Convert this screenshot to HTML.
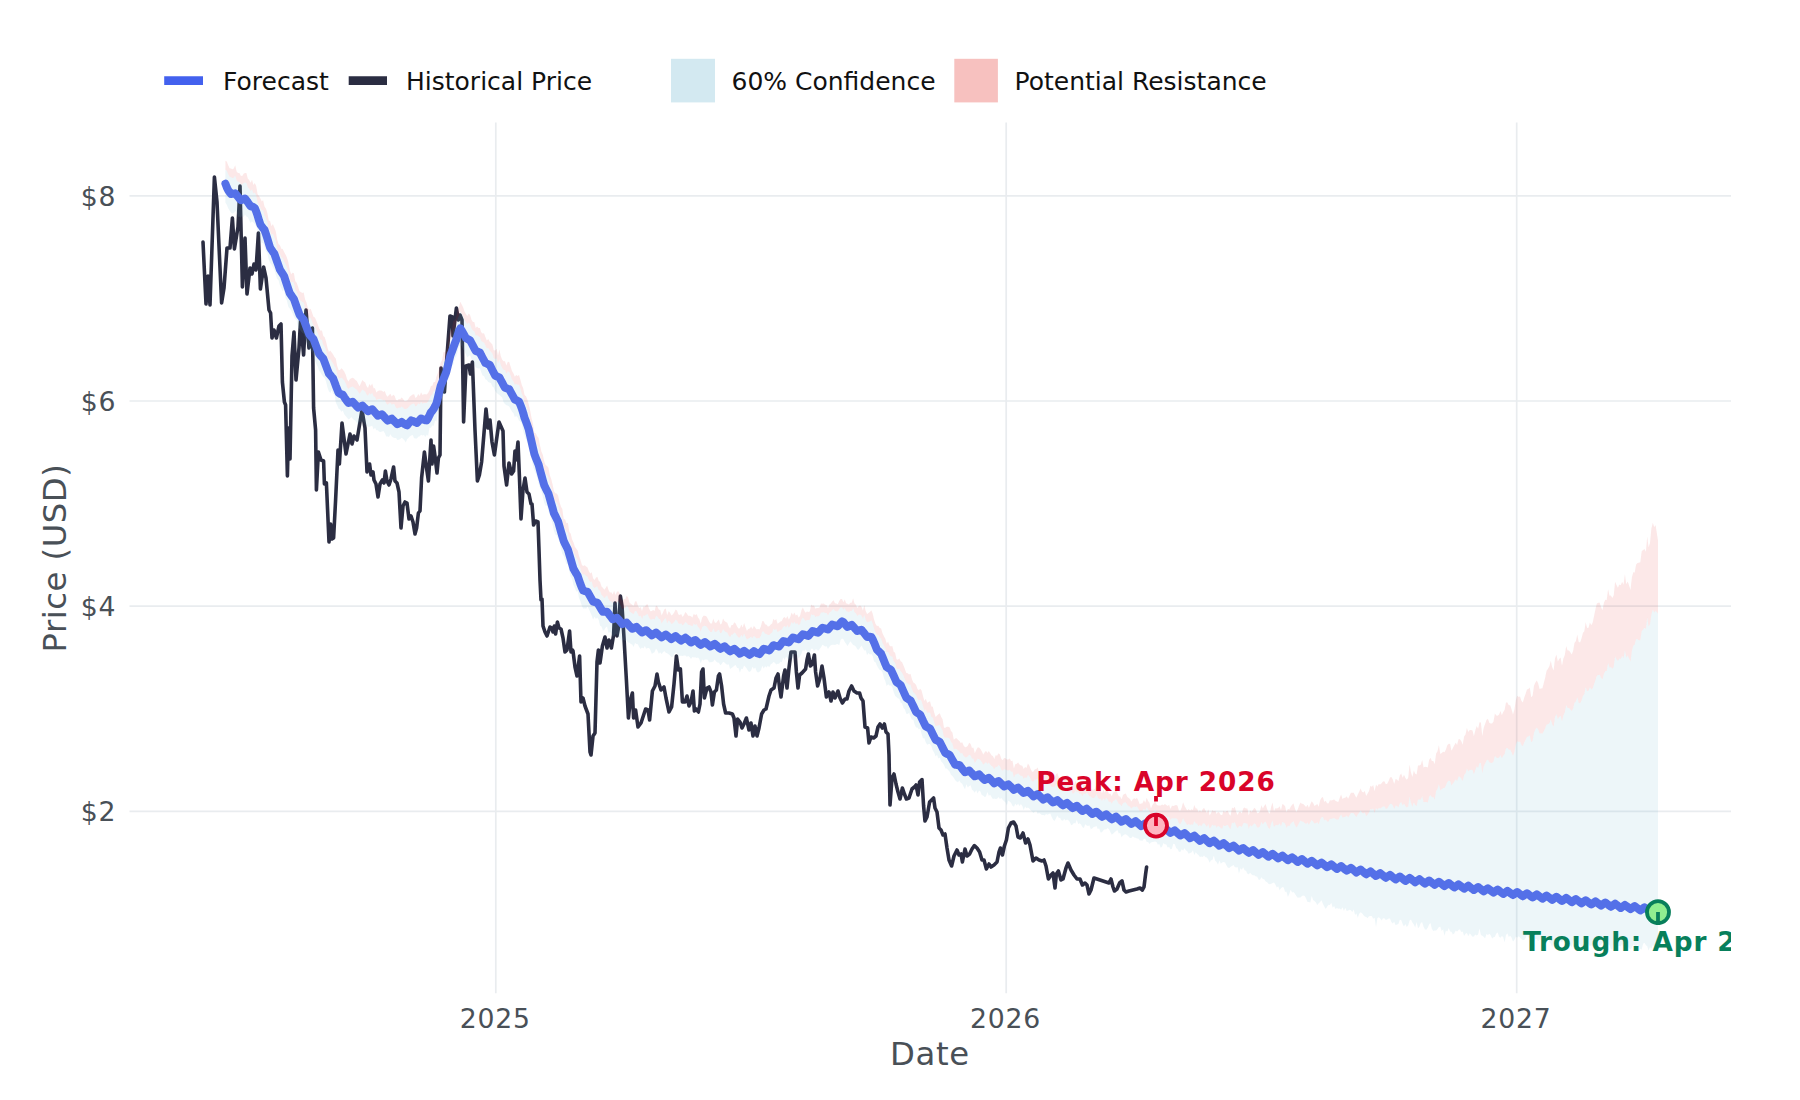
<!DOCTYPE html>
<html lang="en"><head><meta charset="utf-8"><title>Price Forecast</title>
<style>html,body{margin:0;padding:0;background:#fff}svg{display:block}</style></head>
<body>
<svg width="1800" height="1100" viewBox="0 0 1800 1100">
<rect width="1800" height="1100" fill="#fff"/>
<defs><clipPath id="panel"><rect x="129.5" y="122.5" width="1601.5" height="870.8"/></clipPath></defs>
<g stroke="#E9ECEF" stroke-width="1.7" fill="none">
<path d="M129.5,195.8 H1731.0"/>
<path d="M129.5,401.0 H1731.0"/>
<path d="M129.5,606.2 H1731.0"/>
<path d="M129.5,811.4 H1731.0"/>
<path d="M495.8,122.5 V993.3"/>
<path d="M1006.2,122.5 V993.3"/>
<path d="M1516.7,122.5 V993.3"/>
</g>
<g clip-path="url(#panel)">
<path d="M203.0,242.0 L206.0,304.0 L208.0,276.0 L210.0,305.0 L214.4,177.0 L217.0,202.0 L221.6,303.0 L224.0,288.0 L227.0,248.0 L230.0,248.0 L232.4,218.0 L234.4,249.0 L238.0,227.0 L240.0,186.0 L242.4,287.0 L245.0,238.0 L247.0,294.0 L250.0,268.0 L252.0,274.0 L254.0,264.0 L256.0,270.0 L258.4,233.0 L260.4,289.0 L263.6,267.0 L266.0,278.0 L269.0,310.0 L270.6,313.0 L272.0,338.0 L274.0,330.0 L276.4,338.0 L279.0,326.0 L281.0,324.0 L282.4,382.0 L284.4,402.0 L285.6,405.0 L287.4,476.0 L288.6,428.0 L290.0,459.0 L292.0,356.0 L294.0,332.0 L296.0,380.0 L299.0,348.0 L300.6,320.0 L303.6,355.0 L306.0,310.0 L309.0,348.0 L312.4,328.0 L313.6,408.0 L315.6,430.0 L316.4,490.0 L318.4,452.0 L321.0,460.0 L323.6,461.0 L324.4,484.0 L326.4,483.0 L329.0,542.0 L330.6,524.0 L332.0,539.0 L333.6,538.0 L335.6,500.0 L338.0,450.0 L339.4,464.0 L342.0,423.0 L346.0,454.0 L350.0,434.0 L352.0,444.0 L354.0,436.0 L357.0,440.0 L362.0,410.0 L365.0,428.0 L367.0,472.0 L369.6,464.0 L371.0,475.0 L373.0,472.0 L374.0,480.0 L376.0,484.0 L378.0,497.0 L380.0,484.0 L382.4,480.0 L384.0,483.0 L385.4,471.0 L387.0,481.0 L389.0,485.0 L391.0,479.0 L393.6,467.0 L395.0,481.0 L397.0,483.0 L399.0,492.0 L401.0,528.0 L403.0,506.0 L405.0,502.0 L407.0,503.0 L409.0,519.0 L411.0,516.0 L413.0,522.0 L415.0,534.0 L416.6,528.0 L418.4,513.0 L420.0,511.0 L421.6,478.0 L424.4,452.0 L426.4,467.0 L428.4,481.0 L431.0,440.0 L432.0,464.0 L433.6,446.0 L435.0,456.0 L437.0,473.0 L438.4,458.0 L440.0,455.0 L441.0,368.0 L443.0,386.0 L444.4,392.0 L447.0,356.0 L450.0,316.0 L452.4,317.0 L453.0,336.0 L456.4,308.0 L458.4,320.0 L460.0,315.0 L462.0,320.0 L463.6,422.0 L466.0,366.0 L469.0,365.0 L470.4,374.0 L472.4,362.0 L475.0,430.0 L477.4,481.0 L479.4,475.0 L481.6,462.0 L486.0,409.0 L488.0,428.0 L490.0,420.0 L492.0,442.0 L494.4,455.0 L499.0,422.0 L503.0,431.0 L504.0,466.0 L506.6,485.0 L509.0,463.0 L511.6,474.0 L513.6,471.0 L515.0,451.0 L516.0,460.0 L518.0,442.0 L519.4,476.0 L521.0,519.0 L523.0,490.0 L525.0,478.0 L527.0,492.0 L529.0,494.0 L531.0,504.0 L532.0,504.0 L533.6,525.0 L535.6,521.0 L538.0,522.0 L539.0,550.0 L540.0,580.0 L541.0,600.0 L542.0,599.0 L543.0,626.0 L545.0,632.0 L547.0,636.0 L550.0,627.0 L552.0,628.0 L553.0,632.0 L554.4,626.0 L555.6,634.0 L557.4,622.0 L559.0,628.0 L561.0,629.0 L563.0,638.0 L565.0,652.0 L567.0,650.0 L569.6,631.0 L571.0,652.0 L572.4,650.0 L573.0,651.0 L575.0,667.0 L577.0,676.0 L579.6,656.0 L581.0,702.0 L583.0,698.0 L585.0,706.0 L588.0,714.0 L590.0,752.0 L591.0,755.0 L593.0,736.0 L595.0,733.0 L597.0,662.0 L598.4,650.0 L600.0,663.0 L602.4,646.0 L605.0,637.0 L607.0,648.0 L609.0,640.0 L611.4,648.0 L613.6,635.0 L615.0,603.0 L617.0,636.0 L618.6,627.0 L620.4,596.0 L622.0,606.0 L624.0,638.0 L626.4,680.0 L628.4,718.0 L630.4,700.0 L632.4,693.0 L633.6,718.0 L635.6,710.0 L638.0,727.0 L641.0,723.0 L645.6,709.0 L648.0,710.0 L649.6,720.0 L652.4,691.0 L655.0,686.0 L657.0,674.0 L658.4,682.0 L661.0,690.0 L664.0,687.0 L666.0,698.0 L669.0,712.0 L671.6,707.0 L674.0,684.0 L676.4,656.0 L678.4,670.0 L680.4,669.0 L682.4,702.0 L685.0,702.0 L687.0,696.0 L689.0,706.0 L691.0,702.0 L693.0,691.0 L694.4,711.0 L696.0,709.0 L698.4,712.0 L700.0,704.0 L701.6,672.0 L703.0,669.0 L704.4,698.0 L707.0,688.0 L709.0,687.0 L711.0,692.0 L712.4,705.0 L714.4,692.0 L716.4,690.0 L718.4,676.0 L719.6,674.0 L721.6,686.0 L723.6,704.0 L725.6,713.0 L729.0,713.0 L732.4,714.0 L734.0,718.0 L736.0,736.0 L737.6,719.0 L740.0,722.0 L742.0,728.0 L744.0,724.0 L746.4,718.0 L749.0,730.0 L751.0,723.0 L753.0,736.0 L755.0,726.0 L757.0,736.0 L759.0,728.0 L761.6,714.0 L764.0,710.0 L766.0,709.0 L769.0,696.0 L771.0,690.0 L774.0,688.0 L776.0,678.0 L778.0,674.0 L779.6,688.0 L781.0,697.0 L783.6,676.0 L785.0,670.0 L787.0,688.0 L789.0,668.0 L791.0,652.0 L795.0,652.0 L796.4,672.0 L798.0,688.0 L799.6,675.0 L802.0,673.0 L805.6,669.0 L807.0,660.0 L808.4,654.0 L810.4,666.0 L812.4,664.0 L814.4,655.0 L815.6,672.0 L817.6,686.0 L820.0,678.0 L822.0,666.0 L824.0,678.0 L826.4,697.0 L829.0,692.0 L831.0,701.0 L833.0,692.0 L835.0,698.0 L838.0,691.0 L840.0,698.0 L842.4,703.0 L845.0,699.0 L847.0,699.0 L849.0,691.0 L851.6,686.0 L854.0,691.0 L857.0,693.0 L859.6,693.0 L861.0,698.0 L863.0,701.0 L865.0,727.0 L867.6,728.0 L869.0,743.0 L871.0,737.0 L873.6,738.0 L876.0,736.0 L878.0,727.0 L880.0,724.0 L882.4,728.0 L884.4,724.0 L886.0,732.0 L888.0,734.0 L889.0,755.0 L890.0,805.0 L892.0,778.0 L894.0,774.0 L896.0,784.0 L898.0,792.0 L900.0,799.0 L902.4,788.0 L904.4,794.0 L906.4,799.0 L909.0,798.0 L912.0,789.0 L914.4,787.0 L916.0,785.0 L918.0,795.0 L919.6,782.0 L922.0,779.6 L923.6,806.0 L925.0,821.0 L927.0,817.0 L929.6,802.0 L931.6,800.0 L933.6,798.0 L935.0,808.0 L937.0,812.0 L939.0,828.0 L941.0,830.0 L943.0,835.0 L945.0,834.0 L947.0,848.0 L949.0,860.0 L951.6,866.0 L954.0,856.0 L957.0,850.0 L959.0,855.0 L961.0,854.0 L962.4,862.0 L965.0,849.0 L967.0,856.0 L969.6,854.0 L972.0,849.0 L974.4,845.6 L977.0,848.0 L979.6,852.0 L982.0,860.0 L984.0,860.0 L986.4,869.0 L989.0,864.0 L991.0,867.0 L994.0,865.0 L997.0,862.0 L999.0,852.0 L1000.4,848.0 L1002.4,855.0 L1004.4,846.0 L1006.4,840.0 L1008.4,828.0 L1011.0,823.0 L1013.6,822.0 L1016.0,826.0 L1018.0,837.0 L1020.4,838.0 L1023.0,833.0 L1025.6,843.0 L1028.0,839.0 L1030.0,845.0 L1033.0,861.0 L1036.0,858.0 L1039.0,860.0 L1042.0,861.0 L1044.0,860.0 L1046.0,866.0 L1048.4,879.0 L1051.0,875.0 L1053.0,873.0 L1055.0,888.0 L1056.4,874.0 L1058.4,871.0 L1061.0,880.0 L1063.0,879.0 L1066.0,868.0 L1068.0,863.0 L1071.0,870.0 L1074.0,875.0 L1077.0,879.0 L1080.0,879.0 L1082.4,885.0 L1085.0,883.0 L1087.0,885.0 L1089.0,894.0 L1091.0,890.0 L1094.0,878.0 L1097.0,879.0 L1100.0,880.0 L1103.0,881.0 L1106.0,882.0 L1109.0,883.0 L1111.0,879.0 L1113.0,887.0 L1114.4,891.0 L1117.0,889.0 L1119.6,883.0 L1122.0,881.0 L1124.0,890.0 L1126.0,892.0 L1129.0,891.0 L1133.0,890.0 L1137.0,889.0 L1140.0,888.0 L1142.4,890.0 L1144.0,887.0 L1145.6,874.0 L1146.6,867.0" fill="none" stroke="#2B2D42" stroke-width="3.6" stroke-linejoin="round" stroke-linecap="round"/>
<path d="M225.4,169.7 L226.8,170.8 L228.2,174.3 L229.6,176.8 L231.0,177.3 L232.4,178.0 L233.8,177.7 L235.2,175.4 L236.6,180.5 L238.0,181.7 L239.4,182.0 L240.8,184.2 L242.2,184.5 L243.6,183.1 L245.0,182.6 L246.4,182.9 L247.8,187.2 L249.2,188.7 L250.6,191.0 L252.0,189.2 L253.4,193.4 L254.8,192.6 L256.2,195.4 L257.6,202.4 L259.0,204.7 L260.4,207.4 L261.8,210.5 L263.1,210.0 L264.5,215.6 L265.9,218.0 L267.3,222.0 L268.7,228.9 L270.1,230.2 L271.5,234.8 L272.9,233.8 L274.3,237.3 L275.7,240.6 L277.1,247.7 L278.5,252.0 L279.9,253.7 L281.3,257.1 L282.7,258.1 L284.1,261.2 L285.5,263.9 L286.9,267.1 L288.3,271.2 L289.7,278.0 L291.1,282.2 L292.5,281.8 L293.9,282.8 L295.3,289.6 L296.7,291.6 L298.1,295.4 L299.5,299.4 L300.9,300.7 L302.3,302.1 L303.7,302.4 L305.1,308.3 L306.5,311.3 L307.9,316.4 L309.3,318.3 L310.7,318.1 L312.1,321.8 L313.5,325.5 L314.9,326.7 L316.3,329.8 L317.7,333.2 L319.1,337.0 L320.5,339.5 L321.9,340.0 L323.3,344.8 L324.7,346.4 L326.1,350.5 L327.5,355.8 L328.9,359.5 L330.3,359.1 L331.7,361.4 L333.1,363.5 L334.5,366.1 L335.8,367.9 L337.2,374.2 L338.6,378.0 L340.0,378.4 L341.4,377.4 L342.8,378.7 L344.2,380.6 L345.6,383.1 L347.0,386.9 L348.4,388.9 L349.8,387.6 L351.2,387.0 L352.6,386.6 L354.0,387.4 L355.4,388.8 L356.8,389.6 L358.2,391.8 L359.6,393.8 L361.0,391.5 L362.4,389.4 L363.8,390.6 L365.2,391.6 L366.6,394.4 L368.0,395.8 L369.4,393.0 L370.8,394.6 L372.2,392.7 L373.6,396.6 L375.0,396.7 L376.4,400.1 L377.8,399.2 L379.2,398.9 L380.6,399.1 L382.0,399.5 L383.4,400.6 L384.8,400.1 L386.2,403.3 L387.6,404.7 L389.0,403.6 L390.4,402.7 L391.8,404.8 L393.2,403.7 L394.6,404.6 L396.0,407.7 L397.4,408.4 L398.8,407.4 L400.2,407.7 L401.6,406.5 L403.0,407.5 L404.4,409.1 L405.8,409.1 L407.2,408.6 L408.5,407.2 L409.9,405.4 L411.3,404.6 L412.7,403.7 L414.1,403.5 L415.5,406.4 L416.9,405.4 L418.3,403.2 L419.7,404.4 L421.1,401.7 L422.5,403.7 L423.9,403.1 L425.3,402.9 L426.7,403.0 L428.1,401.5 L429.5,399.1 L430.9,395.4 L432.3,394.6 L433.7,391.1 L435.1,390.3 L436.5,385.3 L437.9,381.5 L439.3,376.6 L440.7,371.3 L442.1,368.5 L443.5,361.2 L444.9,360.4 L446.3,357.4 L447.7,351.5 L449.1,343.6 L450.5,339.6 L451.9,337.7 L453.3,330.1 L454.7,328.5 L456.1,325.7 L457.5,318.8 L458.9,316.1 L460.3,311.3 L461.7,313.8 L463.1,316.1 L464.5,319.8 L465.9,322.2 L467.3,324.1 L468.7,322.6 L470.1,324.3 L471.5,328.2 L472.9,330.4 L474.3,330.9 L475.7,335.8 L477.1,335.0 L478.5,336.6 L479.9,337.0 L481.2,340.7 L482.6,342.1 L484.0,342.4 L485.4,345.6 L486.8,348.6 L488.2,348.0 L489.6,350.3 L491.0,351.9 L492.4,353.5 L493.8,358.3 L495.2,358.9 L496.6,358.1 L498.0,363.5 L499.4,359.4 L500.8,365.1 L502.2,368.0 L503.6,369.7 L505.0,370.1 L506.4,373.7 L507.8,371.3 L509.2,371.9 L510.6,375.6 L512.0,379.5 L513.4,381.5 L514.8,384.7 L516.2,383.8 L517.6,384.9 L519.0,384.6 L520.4,388.8 L521.8,393.5 L523.2,396.8 L524.6,402.9 L526.0,405.1 L527.4,408.9 L528.8,413.9 L530.2,419.8 L531.6,426.9 L533.0,432.5 L534.4,440.4 L535.8,441.9 L537.2,445.3 L538.6,447.7 L540.0,454.2 L541.4,460.2 L542.8,463.6 L544.2,469.5 L545.6,473.2 L547.0,475.0 L548.4,477.2 L549.8,483.8 L551.2,487.7 L552.6,493.0 L553.9,498.8 L555.3,501.5 L556.7,502.6 L558.1,505.2 L559.5,511.0 L560.9,515.4 L562.3,518.3 L563.7,526.9 L565.1,528.2 L566.5,531.9 L567.9,532.5 L569.3,540.3 L570.7,542.9 L572.1,548.2 L573.5,551.5 L574.9,555.5 L576.3,557.8 L577.7,560.1 L579.1,565.1 L580.5,568.7 L581.9,573.3 L583.3,574.5 L584.7,574.3 L586.1,575.7 L587.5,576.8 L588.9,580.0 L590.3,582.0 L591.7,581.5 L593.1,586.5 L594.5,588.1 L595.9,586.8 L597.3,586.4 L598.7,589.7 L600.1,591.1 L601.5,594.8 L602.9,596.2 L604.3,597.9 L605.7,596.8 L607.1,595.3 L608.5,598.9 L609.9,601.2 L611.3,601.2 L612.7,603.1 L614.1,600.5 L615.5,603.7 L616.9,601.5 L618.3,601.2 L619.7,603.2 L621.1,606.6 L622.5,609.4 L623.9,607.9 L625.3,608.1 L626.6,605.8 L628.0,607.1 L629.4,611.3 L630.8,612.3 L632.2,613.2 L633.6,614.2 L635.0,610.9 L636.4,610.9 L637.8,614.0 L639.2,616.4 L640.6,615.6 L642.0,618.9 L643.4,615.5 L644.8,615.8 L646.2,614.5 L647.6,614.1 L649.0,617.5 L650.4,619.6 L651.8,619.6 L653.2,618.8 L654.6,619.6 L656.0,615.7 L657.4,616.6 L658.8,618.7 L660.2,619.3 L661.6,623.4 L663.0,621.3 L664.4,619.0 L665.8,618.3 L667.2,623.5 L668.6,620.6 L670.0,621.5 L671.4,623.9 L672.8,623.3 L674.2,621.9 L675.6,619.6 L677.0,620.4 L678.4,623.6 L679.8,623.9 L681.2,623.2 L682.6,625.5 L684.0,624.1 L685.4,621.9 L686.8,623.1 L688.2,624.8 L689.6,624.9 L691.0,625.4 L692.4,626.5 L693.8,623.6 L695.2,625.0 L696.6,624.1 L698.0,626.9 L699.3,628.1 L700.7,631.5 L702.1,627.3 L703.5,625.9 L704.9,625.8 L706.3,626.3 L707.7,628.1 L709.1,630.4 L710.5,631.9 L711.9,632.0 L713.3,628.3 L714.7,631.4 L716.1,631.9 L717.5,630.6 L718.9,629.4 L720.3,633.2 L721.7,632.6 L723.1,629.0 L724.5,630.9 L725.9,631.9 L727.3,632.4 L728.7,635.4 L730.1,637.1 L731.5,634.5 L732.9,634.5 L734.3,632.6 L735.7,633.6 L737.1,635.8 L738.5,637.5 L739.9,637.5 L741.3,634.7 L742.7,637.0 L744.1,633.5 L745.5,636.6 L746.9,639.6 L748.3,638.4 L749.7,637.9 L751.1,636.4 L752.5,638.3 L753.9,635.7 L755.3,637.3 L756.7,638.6 L758.1,638.1 L759.5,638.3 L760.9,635.8 L762.3,631.5 L763.7,631.6 L765.1,633.7 L766.5,634.0 L767.9,635.1 L769.3,634.9 L770.7,633.5 L772.1,632.5 L773.4,628.8 L774.8,629.9 L776.2,628.7 L777.6,632.0 L779.0,631.3 L780.4,630.0 L781.8,629.4 L783.2,627.1 L784.6,626.1 L786.0,627.4 L787.4,625.1 L788.8,627.7 L790.2,625.7 L791.6,622.0 L793.0,623.8 L794.4,621.8 L795.8,623.9 L797.2,623.1 L798.6,625.2 L800.0,623.9 L801.4,619.7 L802.8,617.3 L804.2,619.3 L805.6,620.9 L807.0,619.9 L808.4,620.1 L809.8,619.7 L811.2,614.3 L812.6,615.1 L814.0,614.7 L815.4,617.1 L816.8,616.3 L818.2,616.3 L819.6,615.5 L821.0,612.6 L822.4,612.6 L823.8,612.3 L825.2,613.1 L826.6,613.1 L828.0,615.5 L829.4,612.7 L830.8,611.8 L832.2,610.1 L833.6,609.0 L835.0,611.1 L836.4,611.3 L837.8,611.6 L839.2,609.1 L840.6,607.4 L842.0,607.2 L843.4,609.8 L844.8,607.9 L846.1,611.0 L847.5,611.5 L848.9,612.2 L850.3,611.1 L851.7,611.1 L853.1,608.1 L854.5,612.2 L855.9,613.3 L857.3,615.9 L858.7,614.7 L860.1,614.4 L861.5,615.6 L862.9,618.8 L864.3,615.0 L865.7,619.8 L867.1,622.3 L868.5,621.8 L869.9,621.4 L871.3,620.3 L872.7,623.4 L874.1,628.4 L875.5,632.3 L876.9,634.7 L878.3,635.1 L879.7,637.4 L881.1,638.4 L882.5,642.7 L883.9,645.7 L885.3,648.2 L886.7,652.3 L888.1,651.7 L889.5,654.9 L890.9,656.2 L892.3,656.4 L893.7,661.3 L895.1,662.7 L896.5,668.3 L897.9,669.1 L899.3,668.8 L900.7,671.3 L902.1,672.8 L903.5,675.7 L904.9,678.9 L906.3,682.6 L907.7,683.3 L909.1,684.7 L910.5,684.6 L911.9,689.1 L913.3,692.3 L914.7,693.4 L916.1,695.3 L917.5,698.7 L918.8,700.2 L920.2,699.6 L921.6,701.3 L923.0,706.1 L924.4,710.4 L925.8,709.3 L927.2,712.7 L928.6,712.4 L930.0,712.5 L931.4,716.9 L932.8,717.6 L934.2,722.3 L935.6,726.3 L937.0,725.7 L938.4,725.2 L939.8,724.9 L941.2,728.3 L942.6,730.5 L944.0,737.3 L945.4,737.8 L946.8,737.5 L948.2,737.8 L949.6,738.6 L951.0,742.0 L952.4,743.4 L953.8,749.3 L955.2,748.8 L956.6,749.0 L958.0,750.3 L959.4,751.6 L960.8,753.4 L962.2,753.1 L963.6,755.8 L965.0,757.3 L966.4,757.3 L967.8,756.4 L969.2,754.4 L970.6,755.5 L972.0,758.6 L973.4,758.5 L974.8,762.9 L976.2,760.7 L977.6,758.8 L979.0,759.0 L980.4,760.2 L981.8,762.0 L983.2,764.7 L984.6,763.3 L986.0,762.1 L987.4,764.0 L988.8,762.6 L990.2,764.4 L991.5,766.1 L992.9,766.7 L994.3,769.2 L995.7,766.5 L997.1,766.9 L998.5,765.1 L999.9,766.1 L1001.3,769.5 L1002.7,770.8 L1004.1,769.2 L1005.5,769.4 L1006.9,770.3 L1008.3,770.5 L1009.7,769.8 L1011.1,771.7 L1012.5,771.6 L1013.9,777.6 L1015.3,774.5 L1016.7,774.2 L1018.1,773.2 L1019.5,774.9 L1020.9,775.8 L1022.3,776.1 L1023.7,778.7 L1025.1,777.2 L1026.5,777.9 L1027.9,774.7 L1029.3,776.3 L1030.7,779.1 L1032.1,781.2 L1033.5,781.2 L1034.9,779.4 L1036.3,779.4 L1037.7,778.2 L1039.1,782.4 L1040.5,782.6 L1041.9,784.3 L1043.3,784.6 L1044.7,782.8 L1046.1,784.0 L1047.5,783.8 L1048.9,783.9 L1050.3,784.5 L1051.7,787.1 L1053.1,786.7 L1054.5,787.2 L1055.9,784.7 L1057.3,783.6 L1058.7,786.6 L1060.1,787.7 L1061.5,790.8 L1062.9,789.5 L1064.2,789.0 L1065.6,786.8 L1067.0,785.1 L1068.4,786.5 L1069.8,790.4 L1071.2,789.8 L1072.6,793.7 L1074.0,793.3 L1075.4,790.5 L1076.8,791.9 L1078.2,791.5 L1079.6,793.9 L1081.0,793.6 L1082.4,796.3 L1083.8,793.2 L1085.2,794.3 L1086.6,792.2 L1088.0,793.9 L1089.4,796.1 L1090.8,796.8 L1092.2,797.8 L1093.6,798.0 L1095.0,797.3 L1096.4,793.9 L1097.8,797.5 L1099.2,798.9 L1100.6,798.5 L1102.0,801.1 L1103.4,798.2 L1104.8,800.6 L1106.2,797.8 L1107.6,799.2 L1109.0,801.9 L1110.4,801.6 L1111.8,803.7 L1113.2,800.9 L1114.6,800.5 L1116.0,798.7 L1117.4,801.3 L1118.8,803.9 L1120.2,804.2 L1121.6,806.3 L1123.0,803.3 L1124.4,802.6 L1125.8,802.3 L1127.2,804.8 L1128.6,805.9 L1130.0,806.7 L1131.4,808.7 L1132.8,807.0 L1134.2,806.4 L1135.6,807.1 L1136.9,806.2 L1138.3,808.4 L1139.7,811.3 L1141.1,810.8 L1142.5,810.7 L1143.9,808.4 L1145.3,810.6 L1146.7,806.9 L1148.1,809.5 L1149.5,810.9 L1150.9,815.3 L1152.3,813.0 L1153.7,811.4 L1155.1,809.4 L1156.5,812.7 L1157.9,813.9 L1159.3,814.3 L1160.7,814.8 L1162.1,814.6 L1163.5,815.4 L1164.9,814.8 L1166.3,815.9 L1167.7,817.1 L1169.1,816.5 L1170.5,820.1 L1171.9,818.0 L1173.3,818.6 L1174.7,818.3 L1176.1,818.3 L1177.5,819.3 L1178.9,823.3 L1180.3,823.9 L1181.7,821.8 L1183.1,818.0 L1184.5,820.9 L1185.9,823.1 L1187.3,825.0 L1188.7,823.9 L1190.1,825.1 L1191.5,824.3 L1192.9,824.8 L1194.3,821.1 L1195.7,823.6 L1197.1,823.6 L1198.5,826.2 L1199.9,824.8 L1201.3,826.2 L1202.7,823.8 L1204.1,823.0 L1205.5,825.0 L1206.9,826.9 L1208.3,824.1 L1209.6,828.8 L1211.0,827.0 L1212.4,824.5 L1213.8,825.7 L1215.2,825.0 L1216.6,827.6 L1218.0,826.0 L1219.4,826.6 L1220.8,828.3 L1222.2,828.4 L1223.6,824.9 L1225.0,826.3 L1226.4,825.3 L1227.8,825.1 L1229.2,827.7 L1230.6,828.9 L1232.0,822.6 L1233.4,823.2 L1234.8,822.1 L1236.2,826.1 L1237.6,828.2 L1239.0,826.0 L1240.4,825.9 L1241.8,827.1 L1243.2,823.5 L1244.6,822.8 L1246.0,823.6 L1247.4,823.5 L1248.8,828.8 L1250.2,825.0 L1251.6,826.4 L1253.0,824.7 L1254.4,823.3 L1255.8,824.5 L1257.2,827.6 L1258.6,827.6 L1260.0,826.3 L1261.4,821.8 L1262.8,824.4 L1264.2,822.6 L1265.6,821.4 L1267.0,825.1 L1268.4,827.7 L1269.8,829.0 L1271.2,823.5 L1272.6,820.5 L1274.0,827.2 L1275.4,825.0 L1276.8,825.3 L1278.2,825.0 L1279.6,823.6 L1281.0,826.2 L1282.4,821.8 L1283.7,822.4 L1285.1,823.4 L1286.5,828.0 L1287.9,825.4 L1289.3,825.9 L1290.7,823.8 L1292.1,822.2 L1293.5,821.3 L1294.9,824.9 L1296.3,827.6 L1297.7,825.8 L1299.1,822.7 L1300.5,820.5 L1301.9,821.5 L1303.3,821.7 L1304.7,822.9 L1306.1,824.1 L1307.5,822.5 L1308.9,824.8 L1310.3,822.2 L1311.7,820.0 L1313.1,821.4 L1314.5,823.6 L1315.9,823.0 L1317.3,822.3 L1318.7,824.3 L1320.1,819.7 L1321.5,817.4 L1322.9,816.8 L1324.3,820.5 L1325.7,819.5 L1327.1,821.4 L1328.5,821.4 L1329.9,818.8 L1331.3,818.8 L1332.7,818.4 L1334.1,817.9 L1335.5,819.0 L1336.9,819.5 L1338.3,819.8 L1339.7,816.8 L1341.1,814.2 L1342.5,817.4 L1343.9,816.9 L1345.3,816.7 L1346.7,815.6 L1348.1,817.5 L1349.5,815.3 L1350.9,813.1 L1352.3,813.0 L1353.7,813.2 L1355.1,815.3 L1356.4,817.1 L1357.8,814.6 L1359.2,812.7 L1360.6,810.2 L1362.0,812.7 L1363.4,813.4 L1364.8,812.3 L1366.2,816.2 L1367.6,814.4 L1369.0,812.5 L1370.4,808.7 L1371.8,809.4 L1373.2,808.4 L1374.6,813.1 L1376.0,808.1 L1377.4,809.7 L1378.8,807.9 L1380.2,808.4 L1381.6,807.5 L1383.0,806.4 L1384.4,806.3 L1385.8,808.7 L1387.2,808.4 L1388.6,806.3 L1390.0,803.8 L1391.4,803.7 L1392.8,805.6 L1394.2,809.1 L1395.6,805.6 L1397.0,806.0 L1398.4,807.4 L1399.8,803.2 L1401.2,802.0 L1402.6,805.4 L1404.0,803.4 L1405.4,806.1 L1406.8,807.5 L1408.2,806.4 L1409.6,796.6 L1411.0,802.9 L1412.4,806.7 L1413.8,802.3 L1415.2,805.1 L1416.6,805.9 L1418.0,799.5 L1419.4,799.6 L1420.8,799.4 L1422.2,796.2 L1423.6,802.2 L1425.0,801.9 L1426.4,802.1 L1427.8,802.4 L1429.1,796.8 L1430.5,795.0 L1431.9,797.3 L1433.3,797.1 L1434.7,799.4 L1436.1,791.0 L1437.5,788.9 L1438.9,784.1 L1440.3,790.4 L1441.7,789.2 L1443.1,788.0 L1444.5,788.1 L1445.9,785.6 L1447.3,782.0 L1448.7,780.7 L1450.1,780.7 L1451.5,785.5 L1452.9,783.5 L1454.3,781.4 L1455.7,779.3 L1457.1,781.0 L1458.5,776.6 L1459.9,776.8 L1461.3,778.4 L1462.7,781.0 L1464.1,774.9 L1465.5,773.5 L1466.9,768.5 L1468.3,771.4 L1469.7,769.8 L1471.1,769.7 L1472.5,770.1 L1473.9,774.3 L1475.3,769.7 L1476.7,766.2 L1478.1,768.0 L1479.5,763.0 L1480.9,763.1 L1482.3,773.2 L1483.7,766.5 L1485.1,763.5 L1486.5,760.5 L1487.9,759.4 L1489.3,762.3 L1490.7,762.8 L1492.1,762.9 L1493.5,761.5 L1494.9,755.8 L1496.3,757.6 L1497.7,758.1 L1499.1,757.6 L1500.5,755.1 L1501.8,758.2 L1503.2,755.8 L1504.6,754.0 L1506.0,748.3 L1507.4,748.0 L1508.8,749.8 L1510.2,749.6 L1511.6,752.6 L1513.0,756.1 L1514.4,751.9 L1515.8,745.0 L1517.2,741.1 L1518.6,741.9 L1520.0,741.5 L1521.4,744.7 L1522.8,746.2 L1524.2,742.6 L1525.6,739.8 L1527.0,736.8 L1528.4,736.4 L1529.8,735.2 L1531.2,742.2 L1532.6,740.8 L1534.0,732.6 L1535.4,729.6 L1536.8,727.5 L1538.2,729.6 L1539.6,733.4 L1541.0,733.2 L1542.4,733.8 L1543.8,731.0 L1545.2,728.2 L1546.6,724.4 L1548.0,724.2 L1549.4,723.2 L1550.8,719.3 L1552.2,724.3 L1553.6,726.7 L1555.0,717.3 L1556.4,714.1 L1557.8,719.1 L1559.2,716.9 L1560.6,715.7 L1562.0,721.5 L1563.4,715.4 L1564.8,712.3 L1566.2,705.1 L1567.6,708.1 L1569.0,707.9 L1570.4,709.4 L1571.8,711.1 L1573.2,708.2 L1574.5,702.8 L1575.9,701.5 L1577.3,697.0 L1578.7,702.8 L1580.1,703.3 L1581.5,700.5 L1582.9,695.9 L1584.3,694.3 L1585.7,687.1 L1587.1,691.3 L1588.5,690.8 L1589.9,686.9 L1591.3,689.4 L1592.7,688.2 L1594.1,684.1 L1595.5,679.7 L1596.9,675.8 L1598.3,674.9 L1599.7,674.7 L1601.1,677.7 L1602.5,679.6 L1603.9,673.7 L1605.3,671.1 L1606.7,670.9 L1608.1,662.7 L1609.5,667.4 L1610.9,667.1 L1612.3,668.8 L1613.7,666.8 L1615.1,656.5 L1616.5,659.0 L1617.9,661.0 L1619.3,658.5 L1620.7,658.9 L1622.1,656.1 L1623.5,658.3 L1624.9,650.3 L1626.3,657.6 L1627.7,655.5 L1629.1,658.4 L1630.5,661.5 L1631.9,650.8 L1633.3,645.7 L1634.7,644.6 L1636.1,639.1 L1637.5,639.2 L1638.9,640.3 L1640.3,640.3 L1641.7,631.3 L1643.1,629.4 L1644.5,627.8 L1645.9,629.0 L1647.2,617.4 L1648.6,626.4 L1650.0,624.3 L1651.4,614.2 L1652.8,609.7 L1654.2,612.5 L1655.6,610.7 L1658.0,613.4 L1658.0,946.9 L1655.6,947.0 L1654.2,946.4 L1652.8,945.1 L1651.4,948.7 L1650.0,947.0 L1648.6,950.5 L1647.2,946.2 L1645.9,945.2 L1644.5,942.8 L1643.1,943.8 L1641.7,949.6 L1640.3,948.8 L1638.9,951.1 L1637.5,944.3 L1636.1,946.0 L1634.7,945.8 L1633.3,944.3 L1631.9,947.6 L1630.5,949.4 L1629.1,948.2 L1627.7,946.4 L1626.3,943.0 L1624.9,941.0 L1623.5,948.3 L1622.1,943.5 L1620.7,946.4 L1619.3,945.8 L1617.9,946.2 L1616.5,941.8 L1615.1,943.9 L1613.7,944.4 L1612.3,949.8 L1610.9,949.0 L1609.5,944.7 L1608.1,944.6 L1606.7,941.0 L1605.3,940.2 L1603.9,943.7 L1602.5,942.7 L1601.1,944.7 L1599.7,945.6 L1598.3,947.8 L1596.9,945.8 L1595.5,944.0 L1594.1,943.1 L1592.7,946.1 L1591.3,945.2 L1589.9,946.3 L1588.5,944.0 L1587.1,942.5 L1585.7,941.1 L1584.3,943.7 L1582.9,948.1 L1581.5,948.5 L1580.1,944.3 L1578.7,943.6 L1577.3,940.2 L1575.9,938.5 L1574.5,941.7 L1573.2,940.9 L1571.8,947.0 L1570.4,945.7 L1569.0,942.3 L1567.6,942.5 L1566.2,940.6 L1564.8,941.1 L1563.4,940.0 L1562.0,942.5 L1560.6,941.0 L1559.2,939.5 L1557.8,938.8 L1556.4,936.2 L1555.0,940.3 L1553.6,942.1 L1552.2,947.6 L1550.8,943.8 L1549.4,942.2 L1548.0,936.9 L1546.6,940.8 L1545.2,940.9 L1543.8,941.3 L1542.4,940.8 L1541.0,939.8 L1539.6,939.5 L1538.2,941.1 L1536.8,939.2 L1535.4,938.9 L1534.0,941.6 L1532.6,941.0 L1531.2,938.9 L1529.8,937.7 L1528.4,937.7 L1527.0,934.7 L1525.6,938.0 L1524.2,939.9 L1522.8,939.9 L1521.4,939.1 L1520.0,937.4 L1518.6,936.3 L1517.2,937.7 L1515.8,936.4 L1514.4,940.1 L1513.0,941.4 L1511.6,937.8 L1510.2,935.8 L1508.8,936.9 L1507.4,933.2 L1506.0,935.1 L1504.6,942.3 L1503.2,937.0 L1501.8,935.9 L1500.5,937.7 L1499.1,936.7 L1497.7,932.5 L1496.3,933.6 L1494.9,936.8 L1493.5,937.2 L1492.1,938.5 L1490.7,935.2 L1489.3,933.7 L1487.9,935.0 L1486.5,933.9 L1485.1,938.5 L1483.7,936.7 L1482.3,935.8 L1480.9,934.9 L1479.5,928.6 L1478.1,934.4 L1476.7,935.6 L1475.3,934.4 L1473.9,936.6 L1472.5,936.7 L1471.1,934.9 L1469.7,933.3 L1468.3,936.3 L1466.9,933.1 L1465.5,933.8 L1464.1,936.1 L1462.7,931.6 L1461.3,932.0 L1459.9,929.2 L1458.5,930.0 L1457.1,931.5 L1455.7,930.4 L1454.3,933.3 L1452.9,934.4 L1451.5,931.7 L1450.1,931.4 L1448.7,928.0 L1447.3,931.6 L1445.9,930.4 L1444.5,935.8 L1443.1,929.3 L1441.7,931.0 L1440.3,926.8 L1438.9,927.0 L1437.5,929.0 L1436.1,930.4 L1434.7,930.5 L1433.3,931.1 L1431.9,929.0 L1430.5,923.0 L1429.1,924.6 L1427.8,927.5 L1426.4,929.8 L1425.0,929.4 L1423.6,926.8 L1422.2,922.2 L1420.8,922.8 L1419.4,926.8 L1418.0,928.2 L1416.6,922.1 L1415.2,927.4 L1413.8,924.4 L1412.4,922.5 L1411.0,919.4 L1409.6,920.4 L1408.2,925.3 L1406.8,927.1 L1405.4,924.1 L1404.0,926.6 L1402.6,923.9 L1401.2,920.0 L1399.8,919.7 L1398.4,924.0 L1397.0,924.4 L1395.6,925.2 L1394.2,921.8 L1392.8,923.4 L1391.4,922.0 L1390.0,918.4 L1388.6,918.6 L1387.2,919.6 L1385.8,920.1 L1384.4,918.2 L1383.0,918.3 L1381.6,920.5 L1380.2,918.5 L1378.8,917.3 L1377.4,918.0 L1376.0,927.0 L1374.6,917.7 L1373.2,918.8 L1371.8,915.9 L1370.4,915.9 L1369.0,916.2 L1367.6,918.3 L1366.2,916.9 L1364.8,916.6 L1363.4,915.0 L1362.0,913.2 L1360.6,912.3 L1359.2,913.8 L1357.8,917.7 L1356.4,913.6 L1355.1,915.0 L1353.7,909.6 L1352.3,912.1 L1350.9,910.2 L1349.5,909.8 L1348.1,910.4 L1346.7,910.9 L1345.3,907.8 L1343.9,910.7 L1342.5,907.2 L1341.1,909.7 L1339.7,908.5 L1338.3,908.7 L1336.9,908.1 L1335.5,909.1 L1334.1,905.9 L1332.7,907.7 L1331.3,902.8 L1329.9,905.0 L1328.5,904.7 L1327.1,906.7 L1325.7,909.1 L1324.3,906.5 L1322.9,903.7 L1321.5,900.3 L1320.1,902.1 L1318.7,903.2 L1317.3,904.9 L1315.9,902.4 L1314.5,901.1 L1313.1,900.1 L1311.7,896.0 L1310.3,902.6 L1308.9,902.0 L1307.5,902.1 L1306.1,898.5 L1304.7,895.9 L1303.3,895.4 L1301.9,895.9 L1300.5,897.4 L1299.1,897.5 L1297.7,897.8 L1296.3,895.9 L1294.9,893.8 L1293.5,892.1 L1292.1,892.6 L1290.7,889.7 L1289.3,893.7 L1287.9,897.1 L1286.5,891.7 L1285.1,891.8 L1283.7,887.5 L1282.4,887.1 L1281.0,888.3 L1279.6,890.3 L1278.2,886.2 L1276.8,887.5 L1275.4,884.6 L1274.0,882.4 L1272.6,882.9 L1271.2,883.7 L1269.8,884.2 L1268.4,883.7 L1267.0,882.0 L1265.6,881.6 L1264.2,879.3 L1262.8,879.0 L1261.4,877.3 L1260.0,879.8 L1258.6,879.7 L1257.2,876.5 L1255.8,876.6 L1254.4,875.3 L1253.0,875.2 L1251.6,874.4 L1250.2,872.7 L1248.8,874.2 L1247.4,873.8 L1246.0,870.8 L1244.6,870.3 L1243.2,867.2 L1241.8,869.8 L1240.4,868.2 L1239.0,873.7 L1237.6,867.1 L1236.2,867.5 L1234.8,867.1 L1233.4,864.9 L1232.0,866.0 L1230.6,866.7 L1229.2,868.1 L1227.8,867.5 L1226.4,865.3 L1225.0,862.6 L1223.6,862.1 L1222.2,862.6 L1220.8,863.7 L1219.4,860.6 L1218.0,864.8 L1216.6,861.9 L1215.2,860.8 L1213.8,855.8 L1212.4,859.9 L1211.0,860.3 L1209.6,862.8 L1208.3,859.6 L1206.9,857.4 L1205.5,857.2 L1204.1,855.6 L1202.7,857.0 L1201.3,856.5 L1199.9,857.0 L1198.5,854.9 L1197.1,853.9 L1195.7,852.3 L1194.3,855.1 L1192.9,850.2 L1191.5,852.5 L1190.1,852.9 L1188.7,853.8 L1187.3,851.3 L1185.9,850.3 L1184.5,848.3 L1183.1,850.5 L1181.7,849.3 L1180.3,852.0 L1178.9,851.7 L1177.5,848.9 L1176.1,847.9 L1174.7,844.0 L1173.3,843.8 L1171.9,848.7 L1170.5,849.2 L1169.1,846.9 L1167.7,847.5 L1166.3,844.6 L1164.9,844.3 L1163.5,843.1 L1162.1,846.4 L1160.7,847.7 L1159.3,844.1 L1157.9,844.7 L1156.5,842.0 L1155.1,841.6 L1153.7,841.8 L1152.3,841.9 L1150.9,842.6 L1149.5,844.0 L1148.1,841.9 L1146.7,842.1 L1145.3,838.7 L1143.9,838.7 L1142.5,840.7 L1141.1,840.6 L1139.7,840.6 L1138.3,838.4 L1136.9,838.6 L1135.6,837.8 L1134.2,837.4 L1132.8,836.3 L1131.4,838.0 L1130.0,837.9 L1128.6,836.5 L1127.2,835.3 L1125.8,834.2 L1124.4,834.4 L1123.0,835.4 L1121.6,837.2 L1120.2,832.9 L1118.8,833.4 L1117.4,830.0 L1116.0,831.1 L1114.6,832.3 L1113.2,833.4 L1111.8,834.8 L1110.4,831.9 L1109.0,829.2 L1107.6,828.1 L1106.2,829.6 L1104.8,829.2 L1103.4,830.2 L1102.0,832.2 L1100.6,832.5 L1099.2,828.6 L1097.8,828.9 L1096.4,826.1 L1095.0,826.8 L1093.6,826.9 L1092.2,828.4 L1090.8,829.2 L1089.4,825.2 L1088.0,826.0 L1086.6,825.4 L1085.2,824.2 L1083.8,827.9 L1082.4,826.9 L1081.0,824.5 L1079.6,823.3 L1078.2,823.9 L1076.8,819.8 L1075.4,823.6 L1074.0,822.9 L1072.6,824.4 L1071.2,825.3 L1069.8,822.1 L1068.4,820.2 L1067.0,819.4 L1065.6,820.6 L1064.2,819.0 L1062.9,820.7 L1061.5,820.3 L1060.1,818.1 L1058.7,817.7 L1057.3,815.5 L1055.9,818.6 L1054.5,821.1 L1053.1,819.8 L1051.7,817.0 L1050.3,813.6 L1048.9,813.9 L1047.5,814.8 L1046.1,814.1 L1044.7,815.5 L1043.3,815.1 L1041.9,815.0 L1040.5,813.9 L1039.1,813.1 L1037.7,813.9 L1036.3,811.1 L1034.9,811.4 L1033.5,813.1 L1032.1,811.5 L1030.7,810.2 L1029.3,808.6 L1027.9,807.5 L1026.5,808.2 L1025.1,806.4 L1023.7,809.9 L1022.3,806.0 L1020.9,804.1 L1019.5,806.1 L1018.1,803.7 L1016.7,805.6 L1015.3,803.8 L1013.9,806.7 L1012.5,805.7 L1011.1,803.1 L1009.7,801.6 L1008.3,800.7 L1006.9,805.5 L1005.5,802.3 L1004.1,801.2 L1002.7,799.8 L1001.3,797.9 L999.9,799.0 L998.5,797.0 L997.1,798.7 L995.7,798.9 L994.3,798.4 L992.9,799.0 L991.5,796.9 L990.2,794.8 L988.8,795.8 L987.4,792.1 L986.0,796.6 L984.6,797.0 L983.2,795.4 L981.8,795.0 L980.4,791.4 L979.0,790.5 L977.6,793.5 L976.2,790.1 L974.8,792.7 L973.4,790.7 L972.0,789.8 L970.6,785.3 L969.2,785.9 L967.8,787.4 L966.4,784.3 L965.0,789.3 L963.6,786.7 L962.2,783.8 L960.8,782.7 L959.4,780.5 L958.0,782.3 L956.6,781.6 L955.2,780.2 L953.8,777.7 L952.4,776.1 L951.0,774.7 L949.6,771.6 L948.2,769.9 L946.8,768.6 L945.4,768.5 L944.0,764.9 L942.6,762.8 L941.2,761.6 L939.8,757.5 L938.4,758.5 L937.0,754.7 L935.6,756.5 L934.2,752.8 L932.8,750.4 L931.4,746.3 L930.0,743.9 L928.6,744.0 L927.2,744.8 L925.8,742.4 L924.4,738.2 L923.0,738.2 L921.6,734.1 L920.2,728.6 L918.8,729.6 L917.5,727.6 L916.1,727.4 L914.7,724.8 L913.3,719.6 L911.9,719.8 L910.5,716.5 L909.1,712.8 L907.7,714.0 L906.3,713.8 L904.9,709.6 L903.5,708.1 L902.1,703.6 L900.7,702.7 L899.3,698.8 L897.9,698.3 L896.5,697.0 L895.1,696.0 L893.7,692.1 L892.3,687.3 L890.9,685.4 L889.5,685.6 L888.1,684.2 L886.7,686.0 L885.3,681.1 L883.9,677.9 L882.5,672.6 L881.1,670.3 L879.7,670.0 L878.3,668.1 L876.9,665.6 L875.5,662.2 L874.1,661.4 L872.7,656.1 L871.3,654.1 L869.9,654.4 L868.5,653.0 L867.1,655.0 L865.7,650.2 L864.3,650.4 L862.9,648.2 L861.5,645.5 L860.1,647.5 L858.7,649.7 L857.3,649.2 L855.9,646.8 L854.5,645.5 L853.1,645.1 L851.7,642.9 L850.3,641.3 L848.9,643.8 L847.5,645.9 L846.1,643.7 L844.8,642.0 L843.4,639.2 L842.0,638.5 L840.6,640.1 L839.2,645.3 L837.8,644.0 L836.4,644.2 L835.0,645.0 L833.6,644.7 L832.2,644.8 L830.8,645.3 L829.4,646.7 L828.0,648.9 L826.6,646.2 L825.2,646.5 L823.8,645.4 L822.4,644.8 L821.0,647.2 L819.6,649.3 L818.2,651.1 L816.8,649.5 L815.4,649.6 L814.0,650.9 L812.6,648.7 L811.2,648.7 L809.8,652.7 L808.4,654.0 L807.0,651.2 L805.6,649.4 L804.2,651.1 L802.8,650.0 L801.4,653.7 L800.0,656.3 L798.6,658.6 L797.2,655.9 L795.8,654.4 L794.4,653.4 L793.0,657.7 L791.6,659.8 L790.2,657.8 L788.8,660.1 L787.4,658.2 L786.0,656.6 L784.6,659.9 L783.2,657.5 L781.8,662.3 L780.4,661.8 L779.0,663.8 L777.6,663.8 L776.2,664.5 L774.8,662.8 L773.4,662.1 L772.1,663.6 L770.7,664.2 L769.3,667.2 L767.9,665.8 L766.5,667.6 L765.1,666.3 L763.7,668.6 L762.3,665.8 L760.9,670.2 L759.5,671.7 L758.1,672.5 L756.7,671.5 L755.3,667.6 L753.9,669.1 L752.5,666.8 L751.1,670.5 L749.7,672.0 L748.3,671.2 L746.9,668.8 L745.5,667.1 L744.1,665.6 L742.7,669.1 L741.3,668.7 L739.9,672.7 L738.5,667.9 L737.1,667.9 L735.7,665.1 L734.3,665.8 L732.9,667.0 L731.5,667.9 L730.1,668.9 L728.7,664.3 L727.3,664.7 L725.9,663.9 L724.5,662.5 L723.1,661.7 L721.7,663.9 L720.3,665.2 L718.9,662.8 L717.5,662.6 L716.1,661.4 L714.7,659.6 L713.3,661.5 L711.9,662.0 L710.5,662.2 L709.1,662.3 L707.7,659.8 L706.3,659.5 L704.9,659.5 L703.5,660.6 L702.1,659.5 L700.7,663.2 L699.3,659.1 L698.0,657.4 L696.6,658.1 L695.2,657.3 L693.8,657.5 L692.4,657.0 L691.0,658.9 L689.6,657.1 L688.2,656.0 L686.8,656.8 L685.4,655.5 L684.0,655.5 L682.6,656.1 L681.2,655.7 L679.8,655.7 L678.4,656.5 L677.0,652.9 L675.6,652.6 L674.2,653.9 L672.8,656.7 L671.4,657.1 L670.0,655.5 L668.6,654.2 L667.2,653.3 L665.8,652.8 L664.4,651.0 L663.0,652.2 L661.6,653.9 L660.2,652.2 L658.8,653.8 L657.4,650.6 L656.0,648.6 L654.6,651.9 L653.2,653.1 L651.8,653.7 L650.4,650.1 L649.0,647.9 L647.6,647.9 L646.2,648.8 L644.8,645.9 L643.4,648.5 L642.0,647.5 L640.6,649.0 L639.2,647.1 L637.8,644.3 L636.4,644.1 L635.0,642.9 L633.6,646.9 L632.2,644.4 L630.8,644.1 L629.4,642.4 L628.0,642.4 L626.6,639.9 L625.3,640.7 L623.9,640.1 L622.5,640.6 L621.1,640.2 L619.7,637.8 L618.3,636.4 L616.9,634.2 L615.5,634.4 L614.1,635.8 L612.7,636.9 L611.3,633.0 L609.9,632.0 L608.5,633.0 L607.1,626.4 L605.7,627.6 L604.3,630.1 L602.9,630.6 L601.5,626.5 L600.1,625.8 L598.7,619.9 L597.3,617.8 L595.9,618.7 L594.5,616.7 L593.1,619.5 L591.7,615.5 L590.3,612.3 L588.9,609.3 L587.5,606.4 L586.1,608.7 L584.7,608.2 L583.3,608.8 L581.9,605.9 L580.5,601.4 L579.1,598.3 L577.7,591.2 L576.3,591.5 L574.9,588.1 L573.5,585.0 L572.1,578.7 L570.7,576.7 L569.3,570.7 L567.9,564.2 L566.5,564.3 L565.1,559.9 L563.7,556.0 L562.3,553.8 L560.9,548.5 L559.5,542.1 L558.1,538.8 L556.7,535.5 L555.3,534.6 L553.9,530.6 L552.6,524.4 L551.2,519.1 L549.8,514.8 L548.4,511.2 L547.0,505.5 L545.6,505.7 L544.2,502.4 L542.8,496.7 L541.4,491.2 L540.0,487.5 L538.6,483.4 L537.2,477.4 L535.8,473.8 L534.4,470.2 L533.0,466.4 L531.6,457.6 L530.2,452.0 L528.8,446.5 L527.4,442.1 L526.0,439.4 L524.6,435.8 L523.2,431.2 L521.8,423.7 L520.4,421.8 L519.0,420.4 L517.6,417.4 L516.2,416.0 L514.8,417.1 L513.4,412.9 L512.0,411.8 L510.6,409.1 L509.2,406.5 L507.8,405.4 L506.4,405.2 L505.0,404.1 L503.6,402.2 L502.2,397.6 L500.8,396.2 L499.4,395.0 L498.0,394.0 L496.6,392.7 L495.2,390.9 L493.8,387.5 L492.4,386.6 L491.0,382.9 L489.6,382.4 L488.2,382.0 L486.8,380.0 L485.4,379.3 L484.0,376.0 L482.6,375.4 L481.2,372.0 L479.9,368.2 L478.5,368.4 L477.1,367.9 L475.7,367.4 L474.3,364.6 L472.9,361.0 L471.5,359.1 L470.1,355.3 L468.7,356.0 L467.3,357.4 L465.9,354.2 L464.5,351.1 L463.1,349.5 L461.7,345.7 L460.3,345.4 L458.9,346.8 L457.5,352.0 L456.1,356.7 L454.7,358.6 L453.3,364.8 L451.9,365.8 L450.5,371.5 L449.1,378.2 L447.7,379.8 L446.3,389.1 L444.9,394.1 L443.5,395.6 L442.1,398.6 L440.7,402.6 L439.3,410.2 L437.9,412.0 L436.5,421.6 L435.1,420.6 L433.7,425.8 L432.3,425.6 L430.9,427.7 L429.5,427.8 L428.1,435.7 L426.7,434.8 L425.3,437.0 L423.9,434.9 L422.5,435.6 L421.1,434.8 L419.7,436.2 L418.3,436.7 L416.9,438.6 L415.5,438.4 L414.1,438.3 L412.7,434.9 L411.3,435.6 L409.9,436.2 L408.5,438.0 L407.2,438.9 L405.8,442.4 L404.4,440.2 L403.0,438.8 L401.6,437.8 L400.2,439.1 L398.8,439.7 L397.4,440.0 L396.0,438.0 L394.6,438.1 L393.2,437.4 L391.8,436.4 L390.4,434.3 L389.0,437.1 L387.6,436.5 L386.2,436.5 L384.8,433.1 L383.4,431.1 L382.0,431.6 L380.6,432.0 L379.2,431.8 L377.8,430.3 L376.4,430.3 L375.0,427.8 L373.6,429.4 L372.2,425.7 L370.8,426.3 L369.4,426.8 L368.0,426.7 L366.6,424.9 L365.2,424.8 L363.8,422.0 L362.4,421.1 L361.0,422.2 L359.6,421.5 L358.2,424.8 L356.8,423.1 L355.4,420.6 L354.0,420.0 L352.6,418.5 L351.2,416.9 L349.8,418.7 L348.4,419.5 L347.0,417.6 L345.6,415.9 L344.2,414.3 L342.8,410.4 L341.4,411.8 L340.0,409.5 L338.6,408.8 L337.2,405.3 L335.8,402.6 L334.5,394.3 L333.1,394.2 L331.7,390.0 L330.3,392.9 L328.9,391.3 L327.5,387.5 L326.1,381.8 L324.7,378.1 L323.3,376.7 L321.9,374.7 L320.5,372.6 L319.1,370.7 L317.7,366.4 L316.3,363.7 L314.9,360.0 L313.5,354.9 L312.1,351.8 L310.7,351.6 L309.3,350.3 L307.9,346.0 L306.5,341.9 L305.1,337.9 L303.7,333.6 L302.3,332.8 L300.9,331.3 L299.5,328.9 L298.1,327.7 L296.7,320.2 L295.3,319.1 L293.9,316.4 L292.5,313.2 L291.1,310.2 L289.7,308.6 L288.3,306.7 L286.9,300.5 L285.5,297.9 L284.1,289.2 L282.7,291.2 L281.3,288.3 L279.9,285.2 L278.5,280.3 L277.1,278.7 L275.7,274.4 L274.3,269.4 L272.9,267.4 L271.5,264.4 L270.1,263.1 L268.7,259.2 L267.3,253.0 L265.9,251.0 L264.5,246.8 L263.1,243.0 L261.8,243.2 L260.4,239.0 L259.0,235.3 L257.6,230.3 L256.2,226.2 L254.8,224.2 L253.4,222.4 L252.0,221.3 L250.6,222.9 L249.2,220.2 L247.8,217.3 L246.4,216.6 L245.0,214.6 L243.6,217.0 L242.2,215.4 L240.8,217.8 L239.4,216.5 L238.0,216.9 L236.6,212.2 L235.2,211.0 L233.8,213.1 L232.4,213.5 L231.0,212.8 L229.6,210.6 L228.2,208.2 L226.8,204.8 L225.4,202.7Z" fill="#6CB6D0" fill-opacity="0.125"/>
<path d="M225.4,160.8 L226.8,161.4 L228.2,165.3 L229.6,168.3 L231.0,168.5 L232.4,169.2 L233.8,168.6 L235.2,165.2 L236.6,171.6 L238.0,173.0 L239.4,173.1 L240.8,175.7 L242.2,175.9 L243.6,173.8 L245.0,173.0 L246.4,173.1 L247.8,178.4 L249.2,180.0 L250.6,182.7 L252.0,179.7 L253.4,184.9 L254.8,183.1 L256.2,186.0 L257.6,194.2 L259.0,195.9 L260.4,198.4 L261.8,201.5 L263.1,199.9 L264.5,206.5 L265.9,208.5 L267.3,212.8 L268.7,220.6 L270.1,221.1 L271.5,226.3 L272.9,223.9 L274.3,227.6 L275.7,231.0 L277.1,239.3 L278.5,244.1 L279.9,245.2 L281.3,248.7 L282.7,248.9 L284.1,251.9 L285.5,254.5 L286.9,257.5 L288.3,261.9 L289.7,269.8 L291.1,274.3 L292.5,272.8 L293.9,273.2 L295.3,281.2 L296.7,282.8 L298.1,286.8 L299.5,291.2 L300.9,291.9 L302.3,293.0 L303.7,292.4 L305.1,299.4 L306.5,302.4 L307.9,308.3 L309.3,309.8 L310.7,308.7 L312.1,312.7 L313.5,316.8 L314.9,317.5 L316.3,320.7 L317.7,324.2 L319.1,328.3 L320.5,330.8 L321.9,330.6 L323.3,336.0 L324.7,337.2 L326.1,341.8 L327.5,347.8 L328.9,351.9 L330.3,350.5 L331.7,352.6 L333.1,354.5 L334.5,357.1 L335.8,358.4 L337.2,366.0 L338.6,370.1 L340.0,370.0 L341.4,368.2 L342.8,369.4 L344.2,371.4 L345.6,374.3 L347.0,378.9 L348.4,381.4 L349.8,379.3 L351.2,378.3 L352.6,377.7 L354.0,378.4 L355.4,380.1 L356.8,381.0 L358.2,383.7 L359.6,386.2 L361.0,383.0 L362.4,380.0 L363.8,381.5 L365.2,382.6 L366.6,386.2 L368.0,387.9 L369.4,384.0 L370.8,386.0 L372.2,383.4 L373.6,388.3 L375.0,388.2 L376.4,392.5 L377.8,391.0 L379.2,390.4 L380.6,390.5 L382.0,390.8 L383.4,392.0 L384.8,391.0 L386.2,395.1 L387.6,396.7 L389.0,395.0 L390.4,393.7 L391.8,396.4 L393.2,394.8 L394.6,395.7 L396.0,399.7 L397.4,400.5 L398.8,399.1 L400.2,399.3 L401.6,397.6 L403.0,398.8 L404.4,401.0 L405.8,400.9 L407.2,400.4 L408.5,398.7 L409.9,396.5 L411.3,395.6 L412.7,394.5 L414.1,394.2 L415.5,398.1 L416.9,396.8 L418.3,394.1 L419.7,395.9 L421.1,392.3 L422.5,395.1 L423.9,394.3 L425.3,394.2 L426.7,394.5 L428.1,393.0 L429.5,390.2 L430.9,386.0 L432.3,385.7 L433.7,381.9 L435.1,382.0 L436.5,376.6 L437.9,373.1 L439.3,368.1 L440.7,362.6 L442.1,360.3 L443.5,352.0 L444.9,352.3 L446.3,349.8 L447.7,343.4 L449.1,334.5 L450.5,330.6 L451.9,329.6 L453.3,320.9 L454.7,320.3 L456.1,318.0 L457.5,310.1 L458.9,307.6 L460.3,301.7 L461.7,304.6 L463.1,307.2 L464.5,311.5 L465.9,314.0 L467.3,316.0 L468.7,313.5 L470.1,315.0 L471.5,319.7 L472.9,322.0 L474.3,322.0 L475.7,328.0 L477.1,326.4 L478.5,327.9 L479.9,327.9 L481.2,332.3 L482.6,333.5 L484.0,333.3 L485.4,337.0 L486.8,340.4 L488.2,339.1 L489.6,341.5 L491.0,343.1 L492.4,344.5 L493.8,350.3 L495.2,350.4 L496.6,348.8 L498.0,355.4 L499.4,349.5 L500.8,356.3 L502.2,359.7 L503.6,361.3 L505.0,361.3 L506.4,365.6 L507.8,361.8 L509.2,362.1 L510.6,366.5 L512.0,371.1 L513.4,373.2 L514.8,376.8 L516.2,375.1 L517.6,375.9 L519.0,374.9 L520.4,379.7 L521.8,385.0 L523.2,388.2 L524.6,394.9 L526.0,396.3 L527.4,399.8 L528.8,404.6 L530.2,410.7 L531.6,418.3 L533.0,424.1 L534.4,432.9 L535.8,433.2 L537.2,436.3 L538.6,438.0 L540.0,445.2 L541.4,451.6 L542.8,454.8 L544.2,461.2 L545.6,464.9 L547.0,465.9 L548.4,467.7 L549.8,475.1 L551.2,478.9 L552.6,484.6 L553.9,491.0 L555.3,493.3 L556.7,493.5 L558.1,495.6 L559.5,502.0 L560.9,506.5 L562.3,509.0 L563.7,519.1 L565.1,519.6 L566.5,523.2 L567.9,522.7 L569.3,531.7 L570.7,533.8 L572.1,539.6 L573.5,542.6 L574.9,546.7 L576.3,548.7 L577.7,550.6 L579.1,556.2 L580.5,559.9 L581.9,565.1 L583.3,565.9 L584.7,565.2 L586.1,566.6 L587.5,567.6 L588.9,571.3 L590.3,573.4 L591.7,572.2 L593.1,578.3 L594.5,579.9 L595.9,577.7 L597.3,576.7 L598.7,580.7 L600.1,582.0 L601.5,586.4 L602.9,587.8 L604.3,589.7 L605.7,587.9 L607.1,585.6 L608.5,589.9 L609.9,592.6 L611.3,592.3 L612.7,594.6 L614.1,590.8 L615.5,595.0 L616.9,591.7 L618.3,591.2 L619.7,593.6 L621.1,597.9 L622.5,601.3 L623.9,599.1 L625.3,599.2 L626.6,595.8 L628.0,597.3 L629.4,602.6 L630.8,603.8 L632.2,604.8 L633.6,605.9 L635.0,601.4 L636.4,601.2 L637.8,605.2 L639.2,608.1 L640.6,606.9 L642.0,611.1 L643.4,606.4 L644.8,606.8 L646.2,604.8 L647.6,604.2 L649.0,608.6 L650.4,611.2 L651.8,611.0 L653.2,609.9 L654.6,610.9 L656.0,605.6 L657.4,606.6 L658.8,609.4 L660.2,610.0 L661.6,615.4 L663.0,612.5 L664.4,609.3 L665.8,608.4 L667.2,615.2 L668.6,611.2 L670.0,612.4 L671.4,615.4 L672.8,614.6 L674.2,612.6 L675.6,609.5 L677.0,610.5 L678.4,614.6 L679.8,615.0 L681.2,613.9 L682.6,617.0 L684.0,615.0 L685.4,612.1 L686.8,613.5 L688.2,615.7 L689.6,615.7 L691.0,616.2 L692.4,617.6 L693.8,613.7 L695.2,615.3 L696.6,614.0 L698.0,617.6 L699.3,619.0 L700.7,623.5 L702.1,617.7 L703.5,615.8 L704.9,615.7 L706.3,616.3 L707.7,618.5 L709.1,621.5 L710.5,623.4 L711.9,623.5 L713.3,618.5 L714.7,622.5 L716.1,623.0 L717.5,621.1 L718.9,619.4 L720.3,624.4 L721.7,623.4 L723.1,618.5 L724.5,621.0 L725.9,622.1 L727.3,622.7 L728.7,626.5 L730.1,628.6 L731.5,625.1 L732.9,625.0 L734.3,622.3 L735.7,623.6 L737.1,626.4 L738.5,628.6 L739.9,628.3 L741.3,624.5 L742.7,627.6 L744.1,622.9 L745.5,626.9 L746.9,630.8 L748.3,629.1 L749.7,628.5 L751.1,626.6 L752.5,629.1 L753.9,625.8 L755.3,627.8 L756.7,629.6 L758.1,629.0 L759.5,629.4 L760.9,626.3 L762.3,620.9 L763.7,621.2 L765.1,624.2 L766.5,624.8 L767.9,626.4 L769.3,626.2 L770.7,624.6 L772.1,623.5 L773.4,618.8 L774.8,620.4 L776.2,619.0 L777.6,623.7 L779.0,622.8 L780.4,621.4 L781.8,620.9 L783.2,618.0 L784.6,616.9 L786.0,618.8 L787.4,616.0 L788.8,619.6 L790.2,617.1 L791.6,612.4 L793.0,615.0 L794.4,612.5 L795.8,615.4 L797.2,614.5 L798.6,617.4 L800.0,615.9 L801.4,610.6 L802.8,607.5 L804.2,610.4 L805.6,612.7 L807.0,611.5 L808.4,611.9 L809.8,611.6 L811.2,604.5 L812.6,605.8 L814.0,605.4 L815.4,608.8 L816.8,607.9 L818.2,608.0 L819.6,607.2 L821.0,603.5 L822.4,603.8 L823.8,603.5 L825.2,604.7 L826.6,604.9 L828.0,608.2 L829.4,604.6 L830.8,603.6 L832.2,601.6 L833.6,600.3 L835.0,603.2 L836.4,603.6 L837.8,604.2 L839.2,601.1 L840.6,599.1 L842.0,598.9 L843.4,602.3 L844.8,599.4 L846.1,603.3 L847.5,603.7 L848.9,604.4 L850.3,602.8 L851.7,602.7 L853.1,598.3 L854.5,603.5 L855.9,604.7 L857.3,607.9 L858.7,606.1 L860.1,605.4 L861.5,606.7 L862.9,610.5 L864.3,605.2 L865.7,611.1 L867.1,614.1 L868.5,613.1 L869.9,612.1 L871.3,610.2 L872.7,613.7 L874.1,619.6 L875.5,623.8 L876.9,626.1 L878.3,625.7 L879.7,628.0 L881.1,628.4 L882.5,633.3 L883.9,636.3 L885.3,638.7 L886.7,643.4 L888.1,641.8 L889.5,645.4 L890.9,646.4 L892.3,645.9 L893.7,651.7 L895.1,652.8 L896.5,659.3 L897.9,659.7 L899.3,658.6 L900.7,661.2 L902.1,662.3 L903.5,665.4 L904.9,668.9 L906.3,673.0 L907.7,673.3 L909.1,674.5 L910.5,673.8 L911.9,679.0 L913.3,682.5 L914.7,683.3 L916.1,685.1 L917.5,689.0 L918.8,690.3 L920.2,688.8 L921.6,690.4 L923.0,696.0 L924.4,701.0 L925.8,698.8 L927.2,702.8 L928.6,701.9 L930.0,701.3 L931.4,706.5 L932.8,706.8 L934.2,712.4 L935.6,717.0 L937.0,715.6 L938.4,714.3 L939.8,713.3 L941.2,717.1 L942.6,719.3 L944.0,727.7 L945.4,727.8 L946.8,726.8 L948.2,726.7 L949.6,727.2 L951.0,731.1 L952.4,732.4 L953.8,739.7 L955.2,738.5 L956.6,738.3 L958.0,739.7 L959.4,741.0 L960.8,743.0 L962.2,742.3 L963.6,745.5 L965.0,747.3 L966.4,747.0 L967.8,745.7 L969.2,742.8 L970.6,744.0 L972.0,748.0 L973.4,747.5 L974.8,753.2 L976.2,750.1 L977.6,747.4 L979.0,747.5 L980.4,748.9 L981.8,751.2 L983.2,754.5 L984.6,752.4 L986.0,750.7 L987.4,753.0 L988.8,751.1 L990.2,753.3 L991.5,755.3 L992.9,756.0 L994.3,759.1 L995.7,755.3 L997.1,755.7 L998.5,753.2 L999.9,754.4 L1001.3,758.8 L1002.7,760.3 L1004.1,758.1 L1005.5,758.3 L1006.9,759.4 L1008.3,759.6 L1009.7,758.5 L1011.1,760.9 L1012.5,760.7 L1013.9,768.5 L1015.3,764.2 L1016.7,763.8 L1018.1,762.4 L1019.5,764.4 L1020.9,765.6 L1022.3,765.8 L1023.7,769.1 L1025.1,767.0 L1026.5,767.9 L1027.9,763.6 L1029.3,765.6 L1030.7,769.1 L1032.1,771.7 L1033.5,771.6 L1034.9,769.2 L1036.3,769.1 L1037.7,767.4 L1039.1,772.8 L1040.5,772.9 L1041.9,775.2 L1043.3,775.3 L1044.7,772.9 L1046.1,774.5 L1047.5,774.1 L1048.9,774.1 L1050.3,774.7 L1051.7,778.0 L1053.1,777.4 L1054.5,778.0 L1055.9,774.6 L1057.3,773.1 L1058.7,777.1 L1060.1,778.3 L1061.5,782.3 L1062.9,780.5 L1064.2,779.8 L1065.6,776.8 L1067.0,774.5 L1068.4,776.2 L1069.8,781.3 L1071.2,780.4 L1072.6,785.5 L1074.0,784.9 L1075.4,781.1 L1076.8,783.0 L1078.2,782.3 L1079.6,785.3 L1081.0,784.8 L1082.4,788.2 L1083.8,784.1 L1085.2,785.5 L1086.6,782.6 L1088.0,784.8 L1089.4,787.6 L1090.8,788.4 L1092.2,789.7 L1093.6,789.8 L1095.0,788.8 L1096.4,784.3 L1097.8,788.9 L1099.2,790.7 L1100.6,790.0 L1102.0,793.3 L1103.4,789.5 L1104.8,792.6 L1106.2,788.8 L1107.6,790.6 L1109.0,794.1 L1110.4,793.6 L1111.8,796.2 L1113.2,792.5 L1114.6,792.0 L1116.0,789.5 L1117.4,792.9 L1118.8,796.3 L1120.2,796.6 L1121.6,799.2 L1123.0,795.0 L1124.4,794.1 L1125.8,793.6 L1127.2,796.8 L1128.6,798.0 L1130.0,799.0 L1131.4,801.5 L1132.8,799.2 L1134.2,798.2 L1135.6,799.1 L1136.9,797.7 L1138.3,800.4 L1139.7,804.2 L1141.1,803.4 L1142.5,803.2 L1143.9,800.0 L1145.3,802.8 L1146.7,797.8 L1148.1,801.0 L1149.5,802.7 L1150.9,808.4 L1152.3,805.3 L1153.7,803.2 L1155.1,800.4 L1156.5,804.4 L1157.9,805.4 L1159.3,805.4 L1160.7,805.5 L1162.1,804.6 L1163.5,805.3 L1164.9,804.0 L1166.3,805.0 L1167.7,806.0 L1169.1,804.7 L1170.5,809.0 L1171.9,805.8 L1173.3,806.1 L1174.7,805.4 L1176.1,804.9 L1177.5,805.7 L1178.9,810.4 L1180.3,810.7 L1181.7,807.6 L1183.1,802.2 L1184.5,805.7 L1185.9,808.3 L1187.3,810.6 L1188.7,808.9 L1190.1,810.4 L1191.5,809.3 L1192.9,810.1 L1194.3,805.1 L1195.7,808.5 L1197.1,808.5 L1198.5,812.1 L1199.9,810.2 L1201.3,812.1 L1202.7,809.0 L1204.1,807.9 L1205.5,810.6 L1206.9,813.1 L1208.3,809.3 L1209.6,815.6 L1211.0,813.2 L1212.4,810.0 L1213.8,811.6 L1215.2,810.6 L1216.6,814.1 L1218.0,811.9 L1219.4,812.7 L1220.8,815.0 L1222.2,815.1 L1223.6,810.5 L1225.0,812.4 L1226.4,811.1 L1227.8,810.7 L1229.2,814.2 L1230.6,815.8 L1232.0,807.5 L1233.4,808.4 L1234.8,806.8 L1236.2,812.1 L1237.6,814.9 L1239.0,811.9 L1240.4,811.7 L1241.8,813.4 L1243.2,808.6 L1244.6,807.5 L1246.0,808.6 L1247.4,808.4 L1248.8,815.4 L1250.2,810.3 L1251.6,812.1 L1253.0,809.8 L1254.4,807.8 L1255.8,809.3 L1257.2,813.2 L1258.6,813.0 L1260.0,811.3 L1261.4,805.2 L1262.8,808.5 L1264.2,805.9 L1265.6,804.1 L1267.0,808.8 L1268.4,812.2 L1269.8,813.8 L1271.2,806.5 L1272.6,802.4 L1274.0,811.2 L1275.4,808.2 L1276.8,808.6 L1278.2,808.1 L1279.6,806.3 L1281.0,809.9 L1282.4,804.1 L1283.7,804.8 L1285.1,806.2 L1286.5,812.2 L1287.9,808.7 L1289.3,809.5 L1290.7,806.8 L1292.1,804.7 L1293.5,803.5 L1294.9,808.4 L1296.3,811.9 L1297.7,809.4 L1299.1,805.4 L1300.5,802.5 L1301.9,803.8 L1303.3,804.0 L1304.7,805.6 L1306.1,807.0 L1307.5,804.7 L1308.9,807.8 L1310.3,804.2 L1311.7,801.2 L1313.1,803.1 L1314.5,805.9 L1315.9,805.0 L1317.3,804.0 L1318.7,806.7 L1320.1,800.6 L1321.5,797.7 L1322.9,796.9 L1324.3,802.0 L1325.7,800.7 L1327.1,803.3 L1328.5,803.5 L1329.9,800.2 L1331.3,800.4 L1332.7,799.9 L1334.1,799.4 L1335.5,800.8 L1336.9,801.5 L1338.3,802.1 L1339.7,798.1 L1341.1,794.6 L1342.5,798.9 L1343.9,798.1 L1345.3,797.8 L1346.7,796.2 L1348.1,798.7 L1349.5,795.8 L1350.9,792.8 L1352.3,792.7 L1353.7,792.8 L1355.1,795.5 L1356.4,797.8 L1357.8,794.4 L1359.2,791.8 L1360.6,788.4 L1362.0,791.7 L1363.4,792.5 L1364.8,790.9 L1366.2,796.0 L1367.6,793.5 L1369.0,791.0 L1370.4,785.8 L1371.8,786.7 L1373.2,785.1 L1374.6,791.3 L1376.0,784.5 L1377.4,786.5 L1378.8,784.0 L1380.2,784.6 L1381.6,783.2 L1383.0,781.6 L1384.4,781.3 L1385.8,784.2 L1387.2,783.8 L1388.6,780.9 L1390.0,777.5 L1391.4,777.1 L1392.8,779.5 L1394.2,783.9 L1395.6,779.0 L1397.0,779.4 L1398.4,781.2 L1399.8,775.4 L1401.2,773.6 L1402.6,777.8 L1404.0,774.8 L1405.4,778.0 L1406.8,779.7 L1408.2,777.8 L1409.6,764.5 L1411.0,772.4 L1412.4,776.9 L1413.8,770.6 L1415.2,773.8 L1416.6,774.5 L1418.0,765.6 L1419.4,765.4 L1420.8,764.7 L1422.2,760.0 L1423.6,767.5 L1425.0,766.8 L1426.4,767.0 L1427.8,767.4 L1429.1,760.0 L1430.5,757.7 L1431.9,760.9 L1433.3,760.9 L1434.7,764.2 L1436.1,753.5 L1437.5,751.2 L1438.9,745.3 L1440.3,754.1 L1441.7,753.0 L1443.1,751.8 L1444.5,752.3 L1445.9,749.5 L1447.3,745.2 L1448.7,743.8 L1450.1,744.0 L1451.5,750.7 L1452.9,748.1 L1454.3,745.3 L1455.7,742.7 L1457.1,744.9 L1458.5,739.2 L1459.9,739.3 L1461.3,741.3 L1462.7,744.8 L1464.1,736.5 L1465.5,734.6 L1466.9,728.1 L1468.3,732.0 L1469.7,730.0 L1471.1,729.9 L1472.5,730.5 L1473.9,736.2 L1475.3,730.4 L1476.7,726.0 L1478.1,728.8 L1479.5,722.3 L1480.9,722.6 L1482.3,736.3 L1483.7,727.7 L1485.1,723.9 L1486.5,720.1 L1487.9,718.8 L1489.3,722.8 L1490.7,723.5 L1492.1,723.6 L1493.5,721.4 L1494.9,713.5 L1496.3,715.5 L1497.7,715.7 L1499.1,714.6 L1500.5,711.1 L1501.8,715.2 L1503.2,712.1 L1504.6,709.9 L1506.0,702.6 L1507.4,702.6 L1508.8,705.2 L1510.2,705.3 L1511.6,709.6 L1513.0,714.6 L1514.4,709.4 L1515.8,700.5 L1517.2,695.7 L1518.6,696.9 L1520.0,696.6 L1521.4,700.7 L1522.8,702.6 L1524.2,697.7 L1525.6,693.7 L1527.0,689.6 L1528.4,689.0 L1529.8,687.5 L1531.2,697.2 L1532.6,695.8 L1534.0,685.7 L1535.4,682.5 L1536.8,680.4 L1538.2,683.6 L1539.6,688.9 L1541.0,688.4 L1542.4,688.3 L1543.8,683.1 L1545.2,677.6 L1546.6,670.7 L1548.0,668.8 L1549.4,666.3 L1550.8,660.7 L1552.2,667.2 L1553.6,670.6 L1555.0,658.5 L1556.4,654.6 L1557.8,661.6 L1559.2,659.0 L1560.6,657.6 L1562.0,665.8 L1563.4,658.4 L1564.8,654.9 L1566.2,646.0 L1567.6,650.4 L1569.0,650.5 L1570.4,652.5 L1571.8,654.5 L1573.2,650.5 L1574.5,643.0 L1575.9,641.0 L1577.3,634.6 L1578.7,641.9 L1580.1,642.4 L1581.5,638.6 L1582.9,632.9 L1584.3,631.2 L1585.7,622.2 L1587.1,628.1 L1588.5,627.7 L1589.9,622.5 L1591.3,625.2 L1592.7,622.6 L1594.1,615.8 L1595.5,609.1 L1596.9,603.6 L1598.3,602.7 L1599.7,602.8 L1601.1,607.2 L1602.5,610.2 L1603.9,602.8 L1605.3,599.8 L1606.7,599.9 L1608.1,589.2 L1609.5,595.7 L1610.9,595.5 L1612.3,598.0 L1613.7,595.5 L1615.1,581.8 L1616.5,585.1 L1617.9,587.8 L1619.3,584.5 L1620.7,585.2 L1622.1,581.7 L1623.5,584.7 L1624.9,574.3 L1626.3,584.2 L1627.7,581.5 L1629.1,585.6 L1630.5,590.1 L1631.9,577.2 L1633.3,572.3 L1634.7,572.4 L1636.1,564.5 L1637.5,562.9 L1638.9,562.7 L1640.3,562.3 L1641.7,551.2 L1643.1,549.9 L1644.5,549.0 L1645.9,551.8 L1647.2,536.5 L1648.6,547.3 L1650.0,542.9 L1651.4,528.6 L1652.8,522.8 L1654.2,527.0 L1655.6,525.2 L1658.0,540.6 L1658.0,613.4 L1655.6,610.7 L1654.2,612.5 L1652.8,609.7 L1651.4,614.2 L1650.0,624.3 L1648.6,626.4 L1647.2,617.4 L1645.9,629.0 L1644.5,627.8 L1643.1,629.4 L1641.7,631.3 L1640.3,640.3 L1638.9,640.3 L1637.5,639.2 L1636.1,639.1 L1634.7,644.6 L1633.3,645.7 L1631.9,650.8 L1630.5,661.5 L1629.1,658.4 L1627.7,655.5 L1626.3,657.6 L1624.9,650.3 L1623.5,658.3 L1622.1,656.1 L1620.7,658.9 L1619.3,658.5 L1617.9,661.0 L1616.5,659.0 L1615.1,656.5 L1613.7,666.8 L1612.3,668.8 L1610.9,667.1 L1609.5,667.4 L1608.1,662.7 L1606.7,670.9 L1605.3,671.1 L1603.9,673.7 L1602.5,679.6 L1601.1,677.7 L1599.7,674.7 L1598.3,674.9 L1596.9,675.8 L1595.5,679.7 L1594.1,684.1 L1592.7,688.2 L1591.3,689.4 L1589.9,686.9 L1588.5,690.8 L1587.1,691.3 L1585.7,687.1 L1584.3,694.3 L1582.9,695.9 L1581.5,700.5 L1580.1,703.3 L1578.7,702.8 L1577.3,697.0 L1575.9,701.5 L1574.5,702.8 L1573.2,708.2 L1571.8,711.1 L1570.4,709.4 L1569.0,707.9 L1567.6,708.1 L1566.2,705.1 L1564.8,712.3 L1563.4,715.4 L1562.0,721.5 L1560.6,715.7 L1559.2,716.9 L1557.8,719.1 L1556.4,714.1 L1555.0,717.3 L1553.6,726.7 L1552.2,724.3 L1550.8,719.3 L1549.4,723.2 L1548.0,724.2 L1546.6,724.4 L1545.2,728.2 L1543.8,731.0 L1542.4,733.8 L1541.0,733.2 L1539.6,733.4 L1538.2,729.6 L1536.8,727.5 L1535.4,729.6 L1534.0,732.6 L1532.6,740.8 L1531.2,742.2 L1529.8,735.2 L1528.4,736.4 L1527.0,736.8 L1525.6,739.8 L1524.2,742.6 L1522.8,746.2 L1521.4,744.7 L1520.0,741.5 L1518.6,741.9 L1517.2,741.1 L1515.8,745.0 L1514.4,751.9 L1513.0,756.1 L1511.6,752.6 L1510.2,749.6 L1508.8,749.8 L1507.4,748.0 L1506.0,748.3 L1504.6,754.0 L1503.2,755.8 L1501.8,758.2 L1500.5,755.1 L1499.1,757.6 L1497.7,758.1 L1496.3,757.6 L1494.9,755.8 L1493.5,761.5 L1492.1,762.9 L1490.7,762.8 L1489.3,762.3 L1487.9,759.4 L1486.5,760.5 L1485.1,763.5 L1483.7,766.5 L1482.3,773.2 L1480.9,763.1 L1479.5,763.0 L1478.1,768.0 L1476.7,766.2 L1475.3,769.7 L1473.9,774.3 L1472.5,770.1 L1471.1,769.7 L1469.7,769.8 L1468.3,771.4 L1466.9,768.5 L1465.5,773.5 L1464.1,774.9 L1462.7,781.0 L1461.3,778.4 L1459.9,776.8 L1458.5,776.6 L1457.1,781.0 L1455.7,779.3 L1454.3,781.4 L1452.9,783.5 L1451.5,785.5 L1450.1,780.7 L1448.7,780.7 L1447.3,782.0 L1445.9,785.6 L1444.5,788.1 L1443.1,788.0 L1441.7,789.2 L1440.3,790.4 L1438.9,784.1 L1437.5,788.9 L1436.1,791.0 L1434.7,799.4 L1433.3,797.1 L1431.9,797.3 L1430.5,795.0 L1429.1,796.8 L1427.8,802.4 L1426.4,802.1 L1425.0,801.9 L1423.6,802.2 L1422.2,796.2 L1420.8,799.4 L1419.4,799.6 L1418.0,799.5 L1416.6,805.9 L1415.2,805.1 L1413.8,802.3 L1412.4,806.7 L1411.0,802.9 L1409.6,796.6 L1408.2,806.4 L1406.8,807.5 L1405.4,806.1 L1404.0,803.4 L1402.6,805.4 L1401.2,802.0 L1399.8,803.2 L1398.4,807.4 L1397.0,806.0 L1395.6,805.6 L1394.2,809.1 L1392.8,805.6 L1391.4,803.7 L1390.0,803.8 L1388.6,806.3 L1387.2,808.4 L1385.8,808.7 L1384.4,806.3 L1383.0,806.4 L1381.6,807.5 L1380.2,808.4 L1378.8,807.9 L1377.4,809.7 L1376.0,808.1 L1374.6,813.1 L1373.2,808.4 L1371.8,809.4 L1370.4,808.7 L1369.0,812.5 L1367.6,814.4 L1366.2,816.2 L1364.8,812.3 L1363.4,813.4 L1362.0,812.7 L1360.6,810.2 L1359.2,812.7 L1357.8,814.6 L1356.4,817.1 L1355.1,815.3 L1353.7,813.2 L1352.3,813.0 L1350.9,813.1 L1349.5,815.3 L1348.1,817.5 L1346.7,815.6 L1345.3,816.7 L1343.9,816.9 L1342.5,817.4 L1341.1,814.2 L1339.7,816.8 L1338.3,819.8 L1336.9,819.5 L1335.5,819.0 L1334.1,817.9 L1332.7,818.4 L1331.3,818.8 L1329.9,818.8 L1328.5,821.4 L1327.1,821.4 L1325.7,819.5 L1324.3,820.5 L1322.9,816.8 L1321.5,817.4 L1320.1,819.7 L1318.7,824.3 L1317.3,822.3 L1315.9,823.0 L1314.5,823.6 L1313.1,821.4 L1311.7,820.0 L1310.3,822.2 L1308.9,824.8 L1307.5,822.5 L1306.1,824.1 L1304.7,822.9 L1303.3,821.7 L1301.9,821.5 L1300.5,820.5 L1299.1,822.7 L1297.7,825.8 L1296.3,827.6 L1294.9,824.9 L1293.5,821.3 L1292.1,822.2 L1290.7,823.8 L1289.3,825.9 L1287.9,825.4 L1286.5,828.0 L1285.1,823.4 L1283.7,822.4 L1282.4,821.8 L1281.0,826.2 L1279.6,823.6 L1278.2,825.0 L1276.8,825.3 L1275.4,825.0 L1274.0,827.2 L1272.6,820.5 L1271.2,823.5 L1269.8,829.0 L1268.4,827.7 L1267.0,825.1 L1265.6,821.4 L1264.2,822.6 L1262.8,824.4 L1261.4,821.8 L1260.0,826.3 L1258.6,827.6 L1257.2,827.6 L1255.8,824.5 L1254.4,823.3 L1253.0,824.7 L1251.6,826.4 L1250.2,825.0 L1248.8,828.8 L1247.4,823.5 L1246.0,823.6 L1244.6,822.8 L1243.2,823.5 L1241.8,827.1 L1240.4,825.9 L1239.0,826.0 L1237.6,828.2 L1236.2,826.1 L1234.8,822.1 L1233.4,823.2 L1232.0,822.6 L1230.6,828.9 L1229.2,827.7 L1227.8,825.1 L1226.4,825.3 L1225.0,826.3 L1223.6,824.9 L1222.2,828.4 L1220.8,828.3 L1219.4,826.6 L1218.0,826.0 L1216.6,827.6 L1215.2,825.0 L1213.8,825.7 L1212.4,824.5 L1211.0,827.0 L1209.6,828.8 L1208.3,824.1 L1206.9,826.9 L1205.5,825.0 L1204.1,823.0 L1202.7,823.8 L1201.3,826.2 L1199.9,824.8 L1198.5,826.2 L1197.1,823.6 L1195.7,823.6 L1194.3,821.1 L1192.9,824.8 L1191.5,824.3 L1190.1,825.1 L1188.7,823.9 L1187.3,825.0 L1185.9,823.1 L1184.5,820.9 L1183.1,818.0 L1181.7,821.8 L1180.3,823.9 L1178.9,823.3 L1177.5,819.3 L1176.1,818.3 L1174.7,818.3 L1173.3,818.6 L1171.9,818.0 L1170.5,820.1 L1169.1,816.5 L1167.7,817.1 L1166.3,815.9 L1164.9,814.8 L1163.5,815.4 L1162.1,814.6 L1160.7,814.8 L1159.3,814.3 L1157.9,813.9 L1156.5,812.7 L1155.1,809.4 L1153.7,811.4 L1152.3,813.0 L1150.9,815.3 L1149.5,810.9 L1148.1,809.5 L1146.7,806.9 L1145.3,810.6 L1143.9,808.4 L1142.5,810.7 L1141.1,810.8 L1139.7,811.3 L1138.3,808.4 L1136.9,806.2 L1135.6,807.1 L1134.2,806.4 L1132.8,807.0 L1131.4,808.7 L1130.0,806.7 L1128.6,805.9 L1127.2,804.8 L1125.8,802.3 L1124.4,802.6 L1123.0,803.3 L1121.6,806.3 L1120.2,804.2 L1118.8,803.9 L1117.4,801.3 L1116.0,798.7 L1114.6,800.5 L1113.2,800.9 L1111.8,803.7 L1110.4,801.6 L1109.0,801.9 L1107.6,799.2 L1106.2,797.8 L1104.8,800.6 L1103.4,798.2 L1102.0,801.1 L1100.6,798.5 L1099.2,798.9 L1097.8,797.5 L1096.4,793.9 L1095.0,797.3 L1093.6,798.0 L1092.2,797.8 L1090.8,796.8 L1089.4,796.1 L1088.0,793.9 L1086.6,792.2 L1085.2,794.3 L1083.8,793.2 L1082.4,796.3 L1081.0,793.6 L1079.6,793.9 L1078.2,791.5 L1076.8,791.9 L1075.4,790.5 L1074.0,793.3 L1072.6,793.7 L1071.2,789.8 L1069.8,790.4 L1068.4,786.5 L1067.0,785.1 L1065.6,786.8 L1064.2,789.0 L1062.9,789.5 L1061.5,790.8 L1060.1,787.7 L1058.7,786.6 L1057.3,783.6 L1055.9,784.7 L1054.5,787.2 L1053.1,786.7 L1051.7,787.1 L1050.3,784.5 L1048.9,783.9 L1047.5,783.8 L1046.1,784.0 L1044.7,782.8 L1043.3,784.6 L1041.9,784.3 L1040.5,782.6 L1039.1,782.4 L1037.7,778.2 L1036.3,779.4 L1034.9,779.4 L1033.5,781.2 L1032.1,781.2 L1030.7,779.1 L1029.3,776.3 L1027.9,774.7 L1026.5,777.9 L1025.1,777.2 L1023.7,778.7 L1022.3,776.1 L1020.9,775.8 L1019.5,774.9 L1018.1,773.2 L1016.7,774.2 L1015.3,774.5 L1013.9,777.6 L1012.5,771.6 L1011.1,771.7 L1009.7,769.8 L1008.3,770.5 L1006.9,770.3 L1005.5,769.4 L1004.1,769.2 L1002.7,770.8 L1001.3,769.5 L999.9,766.1 L998.5,765.1 L997.1,766.9 L995.7,766.5 L994.3,769.2 L992.9,766.7 L991.5,766.1 L990.2,764.4 L988.8,762.6 L987.4,764.0 L986.0,762.1 L984.6,763.3 L983.2,764.7 L981.8,762.0 L980.4,760.2 L979.0,759.0 L977.6,758.8 L976.2,760.7 L974.8,762.9 L973.4,758.5 L972.0,758.6 L970.6,755.5 L969.2,754.4 L967.8,756.4 L966.4,757.3 L965.0,757.3 L963.6,755.8 L962.2,753.1 L960.8,753.4 L959.4,751.6 L958.0,750.3 L956.6,749.0 L955.2,748.8 L953.8,749.3 L952.4,743.4 L951.0,742.0 L949.6,738.6 L948.2,737.8 L946.8,737.5 L945.4,737.8 L944.0,737.3 L942.6,730.5 L941.2,728.3 L939.8,724.9 L938.4,725.2 L937.0,725.7 L935.6,726.3 L934.2,722.3 L932.8,717.6 L931.4,716.9 L930.0,712.5 L928.6,712.4 L927.2,712.7 L925.8,709.3 L924.4,710.4 L923.0,706.1 L921.6,701.3 L920.2,699.6 L918.8,700.2 L917.5,698.7 L916.1,695.3 L914.7,693.4 L913.3,692.3 L911.9,689.1 L910.5,684.6 L909.1,684.7 L907.7,683.3 L906.3,682.6 L904.9,678.9 L903.5,675.7 L902.1,672.8 L900.7,671.3 L899.3,668.8 L897.9,669.1 L896.5,668.3 L895.1,662.7 L893.7,661.3 L892.3,656.4 L890.9,656.2 L889.5,654.9 L888.1,651.7 L886.7,652.3 L885.3,648.2 L883.9,645.7 L882.5,642.7 L881.1,638.4 L879.7,637.4 L878.3,635.1 L876.9,634.7 L875.5,632.3 L874.1,628.4 L872.7,623.4 L871.3,620.3 L869.9,621.4 L868.5,621.8 L867.1,622.3 L865.7,619.8 L864.3,615.0 L862.9,618.8 L861.5,615.6 L860.1,614.4 L858.7,614.7 L857.3,615.9 L855.9,613.3 L854.5,612.2 L853.1,608.1 L851.7,611.1 L850.3,611.1 L848.9,612.2 L847.5,611.5 L846.1,611.0 L844.8,607.9 L843.4,609.8 L842.0,607.2 L840.6,607.4 L839.2,609.1 L837.8,611.6 L836.4,611.3 L835.0,611.1 L833.6,609.0 L832.2,610.1 L830.8,611.8 L829.4,612.7 L828.0,615.5 L826.6,613.1 L825.2,613.1 L823.8,612.3 L822.4,612.6 L821.0,612.6 L819.6,615.5 L818.2,616.3 L816.8,616.3 L815.4,617.1 L814.0,614.7 L812.6,615.1 L811.2,614.3 L809.8,619.7 L808.4,620.1 L807.0,619.9 L805.6,620.9 L804.2,619.3 L802.8,617.3 L801.4,619.7 L800.0,623.9 L798.6,625.2 L797.2,623.1 L795.8,623.9 L794.4,621.8 L793.0,623.8 L791.6,622.0 L790.2,625.7 L788.8,627.7 L787.4,625.1 L786.0,627.4 L784.6,626.1 L783.2,627.1 L781.8,629.4 L780.4,630.0 L779.0,631.3 L777.6,632.0 L776.2,628.7 L774.8,629.9 L773.4,628.8 L772.1,632.5 L770.7,633.5 L769.3,634.9 L767.9,635.1 L766.5,634.0 L765.1,633.7 L763.7,631.6 L762.3,631.5 L760.9,635.8 L759.5,638.3 L758.1,638.1 L756.7,638.6 L755.3,637.3 L753.9,635.7 L752.5,638.3 L751.1,636.4 L749.7,637.9 L748.3,638.4 L746.9,639.6 L745.5,636.6 L744.1,633.5 L742.7,637.0 L741.3,634.7 L739.9,637.5 L738.5,637.5 L737.1,635.8 L735.7,633.6 L734.3,632.6 L732.9,634.5 L731.5,634.5 L730.1,637.1 L728.7,635.4 L727.3,632.4 L725.9,631.9 L724.5,630.9 L723.1,629.0 L721.7,632.6 L720.3,633.2 L718.9,629.4 L717.5,630.6 L716.1,631.9 L714.7,631.4 L713.3,628.3 L711.9,632.0 L710.5,631.9 L709.1,630.4 L707.7,628.1 L706.3,626.3 L704.9,625.8 L703.5,625.9 L702.1,627.3 L700.7,631.5 L699.3,628.1 L698.0,626.9 L696.6,624.1 L695.2,625.0 L693.8,623.6 L692.4,626.5 L691.0,625.4 L689.6,624.9 L688.2,624.8 L686.8,623.1 L685.4,621.9 L684.0,624.1 L682.6,625.5 L681.2,623.2 L679.8,623.9 L678.4,623.6 L677.0,620.4 L675.6,619.6 L674.2,621.9 L672.8,623.3 L671.4,623.9 L670.0,621.5 L668.6,620.6 L667.2,623.5 L665.8,618.3 L664.4,619.0 L663.0,621.3 L661.6,623.4 L660.2,619.3 L658.8,618.7 L657.4,616.6 L656.0,615.7 L654.6,619.6 L653.2,618.8 L651.8,619.6 L650.4,619.6 L649.0,617.5 L647.6,614.1 L646.2,614.5 L644.8,615.8 L643.4,615.5 L642.0,618.9 L640.6,615.6 L639.2,616.4 L637.8,614.0 L636.4,610.9 L635.0,610.9 L633.6,614.2 L632.2,613.2 L630.8,612.3 L629.4,611.3 L628.0,607.1 L626.6,605.8 L625.3,608.1 L623.9,607.9 L622.5,609.4 L621.1,606.6 L619.7,603.2 L618.3,601.2 L616.9,601.5 L615.5,603.7 L614.1,600.5 L612.7,603.1 L611.3,601.2 L609.9,601.2 L608.5,598.9 L607.1,595.3 L605.7,596.8 L604.3,597.9 L602.9,596.2 L601.5,594.8 L600.1,591.1 L598.7,589.7 L597.3,586.4 L595.9,586.8 L594.5,588.1 L593.1,586.5 L591.7,581.5 L590.3,582.0 L588.9,580.0 L587.5,576.8 L586.1,575.7 L584.7,574.3 L583.3,574.5 L581.9,573.3 L580.5,568.7 L579.1,565.1 L577.7,560.1 L576.3,557.8 L574.9,555.5 L573.5,551.5 L572.1,548.2 L570.7,542.9 L569.3,540.3 L567.9,532.5 L566.5,531.9 L565.1,528.2 L563.7,526.9 L562.3,518.3 L560.9,515.4 L559.5,511.0 L558.1,505.2 L556.7,502.6 L555.3,501.5 L553.9,498.8 L552.6,493.0 L551.2,487.7 L549.8,483.8 L548.4,477.2 L547.0,475.0 L545.6,473.2 L544.2,469.5 L542.8,463.6 L541.4,460.2 L540.0,454.2 L538.6,447.7 L537.2,445.3 L535.8,441.9 L534.4,440.4 L533.0,432.5 L531.6,426.9 L530.2,419.8 L528.8,413.9 L527.4,408.9 L526.0,405.1 L524.6,402.9 L523.2,396.8 L521.8,393.5 L520.4,388.8 L519.0,384.6 L517.6,384.9 L516.2,383.8 L514.8,384.7 L513.4,381.5 L512.0,379.5 L510.6,375.6 L509.2,371.9 L507.8,371.3 L506.4,373.7 L505.0,370.1 L503.6,369.7 L502.2,368.0 L500.8,365.1 L499.4,359.4 L498.0,363.5 L496.6,358.1 L495.2,358.9 L493.8,358.3 L492.4,353.5 L491.0,351.9 L489.6,350.3 L488.2,348.0 L486.8,348.6 L485.4,345.6 L484.0,342.4 L482.6,342.1 L481.2,340.7 L479.9,337.0 L478.5,336.6 L477.1,335.0 L475.7,335.8 L474.3,330.9 L472.9,330.4 L471.5,328.2 L470.1,324.3 L468.7,322.6 L467.3,324.1 L465.9,322.2 L464.5,319.8 L463.1,316.1 L461.7,313.8 L460.3,311.3 L458.9,316.1 L457.5,318.8 L456.1,325.7 L454.7,328.5 L453.3,330.1 L451.9,337.7 L450.5,339.6 L449.1,343.6 L447.7,351.5 L446.3,357.4 L444.9,360.4 L443.5,361.2 L442.1,368.5 L440.7,371.3 L439.3,376.6 L437.9,381.5 L436.5,385.3 L435.1,390.3 L433.7,391.1 L432.3,394.6 L430.9,395.4 L429.5,399.1 L428.1,401.5 L426.7,403.0 L425.3,402.9 L423.9,403.1 L422.5,403.7 L421.1,401.7 L419.7,404.4 L418.3,403.2 L416.9,405.4 L415.5,406.4 L414.1,403.5 L412.7,403.7 L411.3,404.6 L409.9,405.4 L408.5,407.2 L407.2,408.6 L405.8,409.1 L404.4,409.1 L403.0,407.5 L401.6,406.5 L400.2,407.7 L398.8,407.4 L397.4,408.4 L396.0,407.7 L394.6,404.6 L393.2,403.7 L391.8,404.8 L390.4,402.7 L389.0,403.6 L387.6,404.7 L386.2,403.3 L384.8,400.1 L383.4,400.6 L382.0,399.5 L380.6,399.1 L379.2,398.9 L377.8,399.2 L376.4,400.1 L375.0,396.7 L373.6,396.6 L372.2,392.7 L370.8,394.6 L369.4,393.0 L368.0,395.8 L366.6,394.4 L365.2,391.6 L363.8,390.6 L362.4,389.4 L361.0,391.5 L359.6,393.8 L358.2,391.8 L356.8,389.6 L355.4,388.8 L354.0,387.4 L352.6,386.6 L351.2,387.0 L349.8,387.6 L348.4,388.9 L347.0,386.9 L345.6,383.1 L344.2,380.6 L342.8,378.7 L341.4,377.4 L340.0,378.4 L338.6,378.0 L337.2,374.2 L335.8,367.9 L334.5,366.1 L333.1,363.5 L331.7,361.4 L330.3,359.1 L328.9,359.5 L327.5,355.8 L326.1,350.5 L324.7,346.4 L323.3,344.8 L321.9,340.0 L320.5,339.5 L319.1,337.0 L317.7,333.2 L316.3,329.8 L314.9,326.7 L313.5,325.5 L312.1,321.8 L310.7,318.1 L309.3,318.3 L307.9,316.4 L306.5,311.3 L305.1,308.3 L303.7,302.4 L302.3,302.1 L300.9,300.7 L299.5,299.4 L298.1,295.4 L296.7,291.6 L295.3,289.6 L293.9,282.8 L292.5,281.8 L291.1,282.2 L289.7,278.0 L288.3,271.2 L286.9,267.1 L285.5,263.9 L284.1,261.2 L282.7,258.1 L281.3,257.1 L279.9,253.7 L278.5,252.0 L277.1,247.7 L275.7,240.6 L274.3,237.3 L272.9,233.8 L271.5,234.8 L270.1,230.2 L268.7,228.9 L267.3,222.0 L265.9,218.0 L264.5,215.6 L263.1,210.0 L261.8,210.5 L260.4,207.4 L259.0,204.7 L257.6,202.4 L256.2,195.4 L254.8,192.6 L253.4,193.4 L252.0,189.2 L250.6,191.0 L249.2,188.7 L247.8,187.2 L246.4,182.9 L245.0,182.6 L243.6,183.1 L242.2,184.5 L240.8,184.2 L239.4,182.0 L238.0,181.7 L236.6,180.5 L235.2,175.4 L233.8,177.7 L232.4,178.0 L231.0,177.3 L229.6,176.8 L228.2,174.3 L226.8,170.8 L225.4,169.7Z" fill="#E4302A" fill-opacity="0.11"/>
<path d="M225.4,183.7 L226.8,187.4 L228.2,190.2 L229.6,192.3 L231.0,194.1 L232.4,193.9 L233.8,193.6 L235.2,193.3 L236.6,195.1 L238.0,196.8 L239.4,198.6 L240.8,200.2 L242.2,199.7 L243.6,199.1 L245.0,198.6 L246.4,200.3 L247.8,202.2 L249.2,204.2 L250.6,206.3 L252.0,206.6 L253.4,207.1 L254.8,208.0 L256.2,211.4 L257.6,215.6 L259.0,220.3 L260.4,224.6 L261.8,226.5 L263.1,228.2 L264.5,229.9 L265.9,234.0 L267.3,238.4 L268.7,243.1 L270.1,247.6 L271.5,249.8 L272.9,251.8 L274.3,253.7 L275.7,257.6 L277.1,261.6 L278.5,265.5 L279.9,269.6 L281.3,271.7 L282.7,273.9 L284.1,276.1 L285.5,280.4 L286.9,284.7 L288.3,289.0 L289.7,293.1 L291.1,295.1 L292.5,297.1 L293.9,299.0 L295.3,303.0 L296.7,307.0 L298.1,310.9 L299.5,314.7 L300.9,316.5 L302.3,318.1 L303.7,319.7 L305.1,323.4 L306.5,327.1 L307.9,330.7 L309.3,334.4 L310.7,336.0 L312.1,337.6 L313.5,339.2 L314.9,342.9 L316.3,346.6 L317.7,350.2 L319.1,353.9 L320.5,355.5 L321.9,357.1 L323.3,358.7 L324.7,362.4 L326.1,366.1 L327.5,369.8 L328.9,373.5 L330.3,375.1 L331.7,376.8 L333.1,378.4 L334.5,382.1 L335.8,385.7 L337.2,389.2 L338.6,392.7 L340.0,393.7 L341.4,394.3 L342.8,394.7 L344.2,397.1 L345.6,399.2 L347.0,401.1 L348.4,403.0 L349.8,402.6 L351.2,402.2 L352.6,401.7 L354.0,403.2 L355.4,404.7 L356.8,406.3 L358.2,407.7 L359.6,407.0 L361.0,406.3 L362.4,405.6 L363.8,407.0 L365.2,408.4 L366.6,409.8 L368.0,411.2 L369.4,410.6 L370.8,409.9 L372.2,409.3 L373.6,410.8 L375.0,412.4 L376.4,414.0 L377.8,415.7 L379.2,415.2 L380.6,414.7 L382.0,414.2 L383.4,415.9 L384.8,417.5 L386.2,419.1 L387.6,420.6 L389.0,420.0 L390.4,419.4 L391.8,418.7 L393.2,420.2 L394.6,421.5 L396.0,422.9 L397.4,424.2 L398.8,423.5 L400.2,422.7 L401.6,421.9 L403.0,423.0 L404.4,424.0 L405.8,424.7 L407.2,425.3 L408.5,423.6 L409.9,422.0 L411.3,420.4 L412.7,420.9 L414.1,421.6 L415.5,422.2 L416.9,422.9 L418.3,421.4 L419.7,420.0 L421.1,418.5 L422.5,419.1 L423.9,419.7 L425.3,420.2 L426.7,420.4 L428.1,418.1 L429.5,415.3 L430.9,412.3 L432.3,410.9 L433.7,408.8 L435.1,406.2 L436.5,403.4 L437.9,397.7 L439.3,391.7 L440.7,385.9 L442.1,382.4 L443.5,378.9 L444.9,375.4 L446.3,371.9 L447.7,366.2 L449.1,360.6 L450.5,355.0 L451.9,351.5 L453.3,347.7 L454.7,343.8 L456.1,340.3 L457.5,335.5 L458.9,331.3 L460.3,328.4 L461.7,330.6 L463.1,333.0 L464.5,335.5 L465.9,338.1 L467.3,338.9 L468.7,339.6 L470.1,340.3 L471.5,343.0 L472.9,345.6 L474.3,348.3 L475.7,350.9 L477.1,351.4 L478.5,352.0 L479.9,352.5 L481.2,355.2 L482.6,357.8 L484.0,360.4 L485.4,363.1 L486.8,363.6 L488.2,364.2 L489.6,364.7 L491.0,367.4 L492.4,370.2 L493.8,372.9 L495.2,375.6 L496.6,376.3 L498.0,376.9 L499.4,377.5 L500.8,380.1 L502.2,382.7 L503.6,385.3 L505.0,387.8 L506.4,388.3 L507.8,388.8 L509.2,389.2 L510.6,391.8 L512.0,394.4 L513.4,396.9 L514.8,399.5 L516.2,400.1 L517.6,400.8 L519.0,401.7 L520.4,404.9 L521.8,408.6 L523.2,412.9 L524.6,418.1 L526.0,421.6 L527.4,425.4 L528.8,429.6 L530.2,435.8 L531.6,441.9 L533.0,448.1 L534.4,454.1 L535.8,457.8 L537.2,461.3 L538.6,464.6 L540.0,469.9 L541.4,475.1 L542.8,480.2 L544.2,485.2 L545.6,488.1 L547.0,490.8 L548.4,493.5 L549.8,498.4 L551.2,503.3 L552.6,508.2 L553.9,513.1 L555.3,515.9 L556.7,518.7 L558.1,521.5 L559.5,526.4 L560.9,531.3 L562.3,536.2 L563.7,541.0 L565.1,543.9 L566.5,546.7 L567.9,549.5 L569.3,554.4 L570.7,559.2 L572.1,564.0 L573.5,568.8 L574.9,571.3 L576.3,573.7 L577.7,575.9 L579.1,580.2 L580.5,584.3 L581.9,587.8 L583.3,590.6 L584.7,591.1 L586.1,591.4 L587.5,591.6 L588.9,594.1 L590.3,596.6 L591.7,599.1 L593.1,601.6 L594.5,602.0 L595.9,602.3 L597.3,602.6 L598.7,604.9 L600.1,607.3 L601.5,609.6 L602.9,611.8 L604.3,611.8 L605.7,611.8 L607.1,611.7 L608.5,613.7 L609.9,615.6 L611.3,617.4 L612.7,619.2 L614.1,618.7 L615.5,618.2 L616.9,617.7 L618.3,619.3 L619.7,620.8 L621.1,622.4 L622.5,624.1 L623.9,623.6 L625.3,623.1 L626.6,622.6 L628.0,624.2 L629.4,625.8 L630.8,627.3 L632.2,628.8 L633.6,628.2 L635.0,627.5 L636.4,626.9 L637.8,628.3 L639.2,629.7 L640.6,631.1 L642.0,632.5 L643.4,631.7 L644.8,630.9 L646.2,630.2 L647.6,631.5 L649.0,632.7 L650.4,634.0 L651.8,635.3 L653.2,634.4 L654.6,633.5 L656.0,632.6 L657.4,633.8 L658.8,635.0 L660.2,636.2 L661.6,637.3 L663.0,636.4 L664.4,635.5 L665.8,634.5 L667.2,635.7 L668.6,636.8 L670.0,637.9 L671.4,639.1 L672.8,638.1 L674.2,637.1 L675.6,636.1 L677.0,637.3 L678.4,638.4 L679.8,639.5 L681.2,640.6 L682.6,639.6 L684.0,638.7 L685.4,637.7 L686.8,638.9 L688.2,640.0 L689.6,641.2 L691.0,642.5 L692.4,641.7 L693.8,640.8 L695.2,640.0 L696.6,641.3 L698.0,642.5 L699.3,643.8 L700.7,644.9 L702.1,644.0 L703.5,643.0 L704.9,642.0 L706.3,643.2 L707.7,644.3 L709.1,645.4 L710.5,646.5 L711.9,645.6 L713.3,644.7 L714.7,643.8 L716.1,645.0 L717.5,646.3 L718.9,647.6 L720.3,648.8 L721.7,648.0 L723.1,647.2 L724.5,646.3 L725.9,647.6 L727.3,648.9 L728.7,650.1 L730.1,651.4 L731.5,650.6 L732.9,649.7 L734.3,648.8 L735.7,650.0 L737.1,651.2 L738.5,652.4 L739.9,653.7 L741.3,652.8 L742.7,651.8 L744.1,650.9 L745.5,652.0 L746.9,653.0 L748.3,653.9 L749.7,654.8 L751.1,653.6 L752.5,652.4 L753.9,651.2 L755.3,652.1 L756.7,653.0 L758.1,653.6 L759.5,654.1 L760.9,652.3 L762.3,650.6 L763.7,648.8 L765.1,649.2 L766.5,649.6 L767.9,650.0 L769.3,650.4 L770.7,648.7 L772.1,646.9 L773.4,645.2 L774.8,645.6 L776.2,645.9 L777.6,646.2 L779.0,646.5 L780.4,644.7 L781.8,642.9 L783.2,641.1 L784.6,641.4 L786.0,641.8 L787.4,642.1 L788.8,642.5 L790.2,640.8 L791.6,639.1 L793.0,637.5 L794.4,637.9 L795.8,638.4 L797.2,638.8 L798.6,639.3 L800.0,637.6 L801.4,635.9 L802.8,634.3 L804.2,634.7 L805.6,635.1 L807.0,635.6 L808.4,636.0 L809.8,634.3 L811.2,632.7 L812.6,631.0 L814.0,631.4 L815.4,631.9 L816.8,632.3 L818.2,632.7 L819.6,631.1 L821.0,629.4 L822.4,627.7 L823.8,628.2 L825.2,628.6 L826.6,629.1 L828.0,629.5 L829.4,627.9 L830.8,626.2 L832.2,624.6 L833.6,625.0 L835.0,625.4 L836.4,625.9 L837.8,626.3 L839.2,624.6 L840.6,622.9 L842.0,621.3 L843.4,622.2 L844.8,623.8 L846.1,625.4 L847.5,626.9 L848.9,626.3 L850.3,625.6 L851.7,624.9 L853.1,626.3 L854.5,627.9 L855.9,629.4 L857.3,631.0 L858.7,630.6 L860.1,630.2 L861.5,629.8 L862.9,631.6 L864.3,633.3 L865.7,635.1 L867.1,637.0 L868.5,636.8 L869.9,636.8 L871.3,636.9 L872.7,639.5 L874.1,642.6 L875.5,646.0 L876.9,649.6 L878.3,651.0 L879.7,652.3 L881.1,653.7 L882.5,657.1 L883.9,660.5 L885.3,663.9 L886.7,667.1 L888.1,668.1 L889.5,668.9 L890.9,669.8 L892.3,672.8 L893.7,675.8 L895.1,678.9 L896.5,682.0 L897.9,683.1 L899.3,684.1 L900.7,685.2 L902.1,688.3 L903.5,691.5 L904.9,694.6 L906.3,697.7 L907.7,698.7 L909.1,699.6 L910.5,700.4 L911.9,703.2 L913.3,706.1 L914.7,709.0 L916.1,711.9 L917.5,712.9 L918.8,713.8 L920.2,714.8 L921.6,717.8 L923.0,720.8 L924.4,723.6 L925.8,726.4 L927.2,727.1 L928.6,727.8 L930.0,728.5 L931.4,731.3 L932.8,734.2 L934.2,737.0 L935.6,739.8 L937.0,740.5 L938.4,741.2 L939.8,742.0 L941.2,744.8 L942.6,747.6 L944.0,750.4 L945.4,753.1 L946.8,753.7 L948.2,754.3 L949.6,754.9 L951.0,757.4 L952.4,759.9 L953.8,762.3 L955.2,764.7 L956.6,764.9 L958.0,765.0 L959.4,764.9 L960.8,766.8 L962.2,768.7 L963.6,770.5 L965.0,772.2 L966.4,771.7 L967.8,771.1 L969.2,770.5 L970.6,772.0 L972.0,773.4 L973.4,774.9 L974.8,776.3 L976.2,775.7 L977.6,775.0 L979.0,774.3 L980.4,775.8 L981.8,777.2 L983.2,778.6 L984.6,780.0 L986.0,779.3 L987.4,778.6 L988.8,777.8 L990.2,779.2 L991.5,780.5 L992.9,781.9 L994.3,783.3 L995.7,782.5 L997.1,781.8 L998.5,781.0 L999.9,782.4 L1001.3,783.8 L1002.7,785.1 L1004.1,786.5 L1005.5,785.8 L1006.9,785.0 L1008.3,784.3 L1009.7,785.7 L1011.1,787.0 L1012.5,788.4 L1013.9,789.8 L1015.3,789.0 L1016.7,788.3 L1018.1,787.6 L1019.5,788.9 L1020.9,790.3 L1022.3,791.7 L1023.7,793.0 L1025.1,792.3 L1026.5,791.6 L1027.9,790.8 L1029.3,792.2 L1030.7,793.6 L1032.1,794.9 L1033.5,796.3 L1034.9,795.6 L1036.3,794.8 L1037.7,794.1 L1039.1,795.5 L1040.5,796.9 L1041.9,798.2 L1043.3,799.6 L1044.7,798.8 L1046.1,798.0 L1047.5,797.3 L1048.9,798.6 L1050.3,799.9 L1051.7,801.2 L1053.1,802.5 L1054.5,801.8 L1055.9,801.0 L1057.3,800.2 L1058.7,801.5 L1060.1,802.8 L1061.5,804.1 L1062.9,805.3 L1064.2,804.5 L1065.6,803.7 L1067.0,802.9 L1068.4,804.2 L1069.8,805.5 L1071.2,806.8 L1072.6,808.1 L1074.0,807.3 L1075.4,806.6 L1076.8,805.8 L1078.2,807.1 L1079.6,808.4 L1081.0,809.7 L1082.4,811.0 L1083.8,810.2 L1085.2,809.5 L1086.6,808.7 L1088.0,810.0 L1089.4,811.3 L1090.8,812.6 L1092.2,814.0 L1093.6,813.2 L1095.0,812.4 L1096.4,811.7 L1097.8,813.0 L1099.2,814.3 L1100.6,815.6 L1102.0,816.8 L1103.4,816.0 L1104.8,815.2 L1106.2,814.3 L1107.6,815.6 L1109.0,816.8 L1110.4,818.1 L1111.8,819.3 L1113.2,818.5 L1114.6,817.6 L1116.0,816.7 L1117.4,818.0 L1118.8,819.2 L1120.2,820.4 L1121.6,821.7 L1123.0,820.8 L1124.4,819.9 L1125.8,819.0 L1127.2,820.3 L1128.6,821.5 L1130.0,822.7 L1131.4,823.9 L1132.8,823.0 L1134.2,822.1 L1135.6,821.2 L1136.9,822.4 L1138.3,823.6 L1139.7,824.8 L1141.1,826.1 L1142.5,825.2 L1143.9,824.3 L1145.3,823.4 L1146.7,824.6 L1148.1,825.8 L1149.5,827.0 L1150.9,828.2 L1152.3,827.3 L1153.7,826.4 L1155.1,825.5 L1156.5,826.7 L1157.9,828.0 L1159.3,829.2 L1160.7,830.4 L1162.1,829.6 L1163.5,828.7 L1164.9,827.9 L1166.3,829.1 L1167.7,830.4 L1169.1,831.7 L1170.5,832.9 L1171.9,832.1 L1173.3,831.3 L1174.7,830.4 L1176.1,831.7 L1177.5,833.0 L1178.9,834.3 L1180.3,835.5 L1181.7,834.7 L1183.1,833.9 L1184.5,833.1 L1185.9,834.3 L1187.3,835.6 L1188.7,836.9 L1190.1,838.2 L1191.5,837.3 L1192.9,836.5 L1194.3,835.7 L1195.7,837.0 L1197.1,838.2 L1198.5,839.5 L1199.9,840.8 L1201.3,839.9 L1202.7,839.1 L1204.1,838.2 L1205.5,839.5 L1206.9,840.7 L1208.3,842.0 L1209.6,843.2 L1211.0,842.4 L1212.4,841.5 L1213.8,840.7 L1215.2,841.9 L1216.6,843.2 L1218.0,844.4 L1219.4,845.7 L1220.8,844.8 L1222.2,844.0 L1223.6,843.1 L1225.0,844.4 L1226.4,845.6 L1227.8,846.9 L1229.2,848.1 L1230.6,847.3 L1232.0,846.4 L1233.4,845.6 L1234.8,846.8 L1236.2,848.1 L1237.6,849.3 L1239.0,850.6 L1240.4,849.7 L1241.8,848.8 L1243.2,848.0 L1244.6,849.2 L1246.0,850.4 L1247.4,851.6 L1248.8,852.8 L1250.2,851.9 L1251.6,851.0 L1253.0,850.1 L1254.4,851.3 L1255.8,852.5 L1257.2,853.7 L1258.6,854.8 L1260.0,853.9 L1261.4,853.0 L1262.8,852.0 L1264.2,853.2 L1265.6,854.4 L1267.0,855.5 L1268.4,856.7 L1269.8,855.7 L1271.2,854.8 L1272.6,853.8 L1274.0,855.0 L1275.4,856.1 L1276.8,857.3 L1278.2,858.4 L1279.6,857.5 L1281.0,856.5 L1282.4,855.6 L1283.7,856.7 L1285.1,857.9 L1286.5,859.0 L1287.9,860.2 L1289.3,859.2 L1290.7,858.2 L1292.1,857.3 L1293.5,858.4 L1294.9,859.6 L1296.3,860.7 L1297.7,861.9 L1299.1,860.9 L1300.5,860.0 L1301.9,859.0 L1303.3,860.2 L1304.7,861.4 L1306.1,862.5 L1307.5,863.7 L1308.9,862.7 L1310.3,861.8 L1311.7,860.8 L1313.1,862.0 L1314.5,863.1 L1315.9,864.3 L1317.3,865.4 L1318.7,864.5 L1320.1,863.5 L1321.5,862.6 L1322.9,863.7 L1324.3,864.9 L1325.7,866.0 L1327.1,867.2 L1328.5,866.3 L1329.9,865.3 L1331.3,864.4 L1332.7,865.5 L1334.1,866.7 L1335.5,867.8 L1336.9,869.0 L1338.3,868.0 L1339.7,867.1 L1341.1,866.1 L1342.5,867.3 L1343.9,868.4 L1345.3,869.6 L1346.7,870.7 L1348.1,869.8 L1349.5,868.8 L1350.9,867.9 L1352.3,869.0 L1353.7,870.2 L1355.1,871.3 L1356.4,872.5 L1357.8,871.5 L1359.2,870.6 L1360.6,869.6 L1362.0,870.8 L1363.4,871.9 L1364.8,873.1 L1366.2,874.3 L1367.6,873.3 L1369.0,872.4 L1370.4,871.4 L1371.8,872.6 L1373.2,873.7 L1374.6,874.9 L1376.0,876.0 L1377.4,875.1 L1378.8,874.1 L1380.2,873.2 L1381.6,874.3 L1383.0,875.5 L1384.4,876.6 L1385.8,877.8 L1387.2,876.8 L1388.6,875.9 L1390.0,874.9 L1391.4,876.0 L1392.8,877.2 L1394.2,878.3 L1395.6,879.4 L1397.0,878.4 L1398.4,877.5 L1399.8,876.5 L1401.2,877.6 L1402.6,878.7 L1404.0,879.8 L1405.4,880.9 L1406.8,879.9 L1408.2,878.9 L1409.6,877.9 L1411.0,879.0 L1412.4,880.1 L1413.8,881.2 L1415.2,882.3 L1416.6,881.3 L1418.0,880.2 L1419.4,879.2 L1420.8,880.3 L1422.2,881.4 L1423.6,882.5 L1425.0,883.6 L1426.4,882.5 L1427.8,881.5 L1429.1,880.5 L1430.5,881.6 L1431.9,882.7 L1433.3,883.7 L1434.7,884.8 L1436.1,883.8 L1437.5,882.8 L1438.9,881.8 L1440.3,882.8 L1441.7,883.9 L1443.1,885.0 L1444.5,886.1 L1445.9,885.1 L1447.3,884.0 L1448.7,883.0 L1450.1,884.1 L1451.5,885.2 L1452.9,886.3 L1454.3,887.4 L1455.7,886.4 L1457.1,885.4 L1458.5,884.3 L1459.9,885.4 L1461.3,886.5 L1462.7,887.6 L1464.1,888.7 L1465.5,887.7 L1466.9,886.7 L1468.3,885.7 L1469.7,886.8 L1471.1,887.9 L1472.5,888.9 L1473.9,890.0 L1475.3,889.0 L1476.7,888.0 L1478.1,887.0 L1479.5,888.1 L1480.9,889.2 L1482.3,890.3 L1483.7,891.4 L1485.1,890.3 L1486.5,889.3 L1487.9,888.3 L1489.3,889.4 L1490.7,890.5 L1492.1,891.6 L1493.5,892.7 L1494.9,891.6 L1496.3,890.6 L1497.7,889.6 L1499.1,890.7 L1500.5,891.8 L1501.8,892.8 L1503.2,893.9 L1504.6,892.9 L1506.0,891.9 L1507.4,890.8 L1508.8,891.9 L1510.2,893.0 L1511.6,894.1 L1513.0,895.1 L1514.4,894.1 L1515.8,893.1 L1517.2,892.1 L1518.6,893.1 L1520.0,894.2 L1521.4,895.3 L1522.8,896.3 L1524.2,895.3 L1525.6,894.3 L1527.0,893.3 L1528.4,894.3 L1529.8,895.4 L1531.2,896.5 L1532.6,897.5 L1534.0,896.5 L1535.4,895.5 L1536.8,894.4 L1538.2,895.5 L1539.6,896.6 L1541.0,897.6 L1542.4,898.7 L1543.8,897.7 L1545.2,896.6 L1546.6,895.6 L1548.0,896.7 L1549.4,897.7 L1550.8,898.8 L1552.2,899.9 L1553.6,898.8 L1555.0,897.8 L1556.4,896.8 L1557.8,897.8 L1559.2,898.9 L1560.6,900.0 L1562.0,901.0 L1563.4,900.0 L1564.8,899.0 L1566.2,897.9 L1567.6,899.0 L1569.0,900.1 L1570.4,901.1 L1571.8,902.2 L1573.2,901.2 L1574.5,900.1 L1575.9,899.1 L1577.3,900.2 L1578.7,901.2 L1580.1,902.3 L1581.5,903.4 L1582.9,902.3 L1584.3,901.3 L1585.7,900.3 L1587.1,901.3 L1588.5,902.4 L1589.9,903.5 L1591.3,904.5 L1592.7,903.5 L1594.1,902.5 L1595.5,901.4 L1596.9,902.5 L1598.3,903.5 L1599.7,904.6 L1601.1,905.7 L1602.5,904.6 L1603.9,903.6 L1605.3,902.6 L1606.7,903.6 L1608.1,904.7 L1609.5,905.8 L1610.9,906.8 L1612.3,905.8 L1613.7,904.7 L1615.1,903.7 L1616.5,904.8 L1617.9,905.8 L1619.3,906.9 L1620.7,908.0 L1622.1,906.9 L1623.5,905.9 L1624.9,904.9 L1626.3,905.9 L1627.7,907.0 L1629.1,908.1 L1630.5,909.2 L1631.9,908.1 L1633.3,907.1 L1634.7,906.1 L1636.1,907.2 L1637.5,908.2 L1638.9,909.3 L1640.3,910.4 L1641.7,909.4 L1643.1,908.3 L1644.5,907.3 L1645.9,908.4 L1647.2,909.5 L1648.6,910.6 L1650.0,911.7 L1651.4,910.7 L1652.8,909.7 L1654.2,908.7 L1655.6,909.8 L1658.0,911.0" fill="none" stroke="#5470E8" stroke-width="8" stroke-linejoin="round" stroke-linecap="round"/>
<path d="M1156,796 V801.6" stroke="#D90429" stroke-width="3.8" fill="none"/>
<circle cx="1156" cy="825.6" r="11" fill="#FFB6C1" stroke="#D90429" stroke-width="3.8"/>
<path d="M1156,825.9 V813" stroke="#D90429" stroke-width="3.8" fill="none"/>
<circle cx="1658" cy="912.2" r="11" fill="#90EE90" stroke="#087F5B" stroke-width="3.8"/>
<path d="M1658,912 V925" stroke="#087F5B" stroke-width="3.8" fill="none"/>
<g font-family="'DejaVu Sans', 'Liberation Sans', sans-serif" font-weight="bold" font-size="26.3" letter-spacing="0.92">
<text x="1036.3" y="790.7" fill="#D90429">Peak: Apr 2026</text>
<text x="1523" y="950.8" fill="#087F5B">Trough: Apr 2027</text>
</g>
</g>
<path d="M164.2,80.6 H203" stroke="#4361EE" stroke-width="8.8"/>
<path d="M348.7,80.6 H387" stroke="#2B2D42" stroke-width="8.8"/>
<rect x="671" y="58.8" width="44" height="43.6" fill="#D3E9F1"/>
<rect x="954.3" y="58.8" width="43.6" height="43.6" fill="#F7C1BF"/>
<g font-family="'DejaVu Sans', 'Liberation Sans', sans-serif" font-size="25" fill="#111">
<text x="223" y="90">Forecast</text>
<text x="406" y="90">Historical Price</text>
<text x="731.5" y="90">60% Confidence</text>
<text x="1014.5" y="90">Potential Resistance</text>
</g>
<g font-family="'DejaVu Sans', 'Liberation Sans', sans-serif" font-size="26.7" letter-spacing="0.8" fill="#495057">
<text x="116.3" y="205.5" text-anchor="end">$8</text>
<text x="116.3" y="410.7" text-anchor="end">$6</text>
<text x="116.3" y="615.9" text-anchor="end">$4</text>
<text x="116.3" y="821.1" text-anchor="end">$2</text>
<text x="495.2" y="1028" text-anchor="middle">2025</text>
<text x="1005.6" y="1028" text-anchor="middle">2026</text>
<text x="1516.1" y="1028" text-anchor="middle">2027</text>
</g>
<g font-family="'DejaVu Sans', 'Liberation Sans', sans-serif" font-size="32.3" fill="#495057">
<text x="929.9" y="1064.8" text-anchor="middle" letter-spacing="0.7">Date</text>
<text transform="translate(65.8,558.1) rotate(-90)" text-anchor="middle" letter-spacing="0.5">Price (USD)</text>
</g>
</svg>
</body></html>
